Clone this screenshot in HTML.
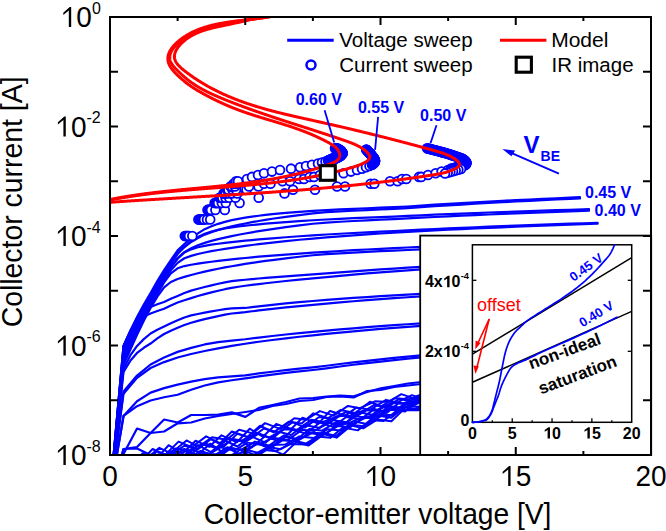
<!DOCTYPE html>
<html><head><meta charset="utf-8"><style>html,body{margin:0;padding:0;background:#fff;width:666px;height:531px;overflow:hidden}svg{display:block}</style></head>
<body><svg width="666" height="531" viewBox="0 0 666 531">
<rect width="666" height="531" fill="#fff"/>
<defs><clipPath id="pc"><rect x="110.0" y="17.0" width="541.0" height="438.0"/></clipPath></defs>
<g clip-path="url(#pc)">
<path d="M110,500 L123.5,449 L137.05,447 L150.6,433 L164.1,419.5 L177.7,422.5 L191.2,415 L204.8,415 L218.3,414.6 L231.8,412.4 L245.4,416.9 L258.9,407.9 L272.5,405 L286,402 L299.5,398.5 L313.1,398 L326.6,396.5 L340.2,395.5 L353.7,396.4 L367.2,392 L380.8,388.4 L394.3,386 L407.9,383.5 L421.4,382 L435,380" fill="none" stroke="#0000ff" stroke-width="2.2" stroke-linejoin="round" stroke-linecap="round" />
<path d="M110,500 L123.5,454 L137.05,428.5 L150.6,433 L164.1,431.5 L177.7,423.3 L191.2,422.5 L204.8,418.5 L218.3,416 L231.8,414 L245.4,412 L258.9,410 L272.5,406 L286,404 L299.5,401 L313.1,400 L326.6,397 L340.2,396.5 L353.7,397.5 L367.2,391 L380.8,390 L394.3,387 L407.9,385.5 L421.4,384 L435,382" fill="none" stroke="#0000ff" stroke-width="2.2" stroke-linejoin="round" stroke-linecap="round" />
<path d="M110,500 L123.5,449 L137,448.5 L150.6,455 L164,460" fill="none" stroke="#0000ff" stroke-width="2.2" stroke-linejoin="round" stroke-linecap="round" />
<path d="M119.87,488.83 L132.51,473.14 L148.41,476.92 L160.46,462.41 L173.84,469.82 L188.11,458.18 L203.11,466.13 L215.51,455.99 L227.82,464.4 L242.53,451.51 L254.33,457.96 L269.15,448.15 L283.16,454.63 L296.29,442.1 L308.36,445.62 L323.92,434.3 L336.48,437.64 L351.39,425.49 L363.22,428.35 L377.48,419.44 L391.39,421.24 L403.27,409.9 L418.05,410.36 L431.13,403.11 L443.75,405.58" fill="none" stroke="#0000ff" stroke-width="2.0" stroke-linejoin="round" stroke-linecap="round" />
<path d="M115.31,489.11 L129.32,474.76 L141.73,476.84 L155.47,464.03 L168.28,468.06 L181.69,458.45 L196.91,463.18 L209.55,454.63 L223.68,460.46 L234.98,453.13 L250.95,458.86 L263.35,449.83 L275.74,451.14 L290.34,444.03 L304.86,444.4 L317.45,436.45 L330.49,437.72 L342.9,427.51 L357.71,430.36 L370.8,419.9 L383.44,421.05 L396.98,410.62 L413.31,409.77 L425.22,403.33 L440.08,404.97" fill="none" stroke="#0000ff" stroke-width="2.0" stroke-linejoin="round" stroke-linecap="round" />
<path d="M119.29,486.58 L133.98,471.81 L147.58,472.54 L160.56,459.67 L172.24,468.47 L187.8,456.42 L200.77,461.29 L213.94,454.04 L226.61,460.1 L240.54,449.18 L254.02,454.62 L268.22,446.93 L280.84,449.25 L294.89,440.82 L308.63,444.16 L323.29,432.83 L335.87,436 L350.29,424.74 L363.95,426.34 L375.99,415.33 L391.08,417.86 L404.17,407.32 L417.43,409.2 L431.72,401.48 L443.52,403.09" fill="none" stroke="#0000ff" stroke-width="2.0" stroke-linejoin="round" stroke-linecap="round" />
<path d="M111.93,480.69 L123.05,483.3 L137.67,468.69 L151.74,469.83 L166.17,459.53 L178.69,464.39 L190.89,455.8 L205.09,458.64 L219.83,452.82 L231.25,457.09 L246.84,449.92 L259.53,453.2 L271.62,444.96 L285.07,444.59 L299.28,436.49 L313.76,438.07 L327.36,429.19 L341.14,430.48 L353.57,421.22 L367.77,424.35 L381.66,415.37 L393.78,414.77 L406.85,406.31 L423.14,406.92 L433.94,401.15 L448.26,401.65" fill="none" stroke="#0000ff" stroke-width="2.0" stroke-linejoin="round" stroke-linecap="round" />
<path d="M121.85,473.75 L133.18,478.03 L148.96,462.41 L161.56,466.55 L175.19,456.58 L188.87,461.05 L202.89,452.04 L214.92,459.17 L230.07,449.02 L241.48,455.49 L256.47,443.02 L269.73,448.3 L282.7,440.26 L296.46,441.71 L308.92,432.74 L322.54,435.15 L338.16,425.91 L350.31,427.24 L363.36,417.71 L377.23,418.47 L390.01,409.42 L405.03,411.59 L417.05,401.01 L430.73,404.94 L444.26,396.21" fill="none" stroke="#0000ff" stroke-width="2.0" stroke-linejoin="round" stroke-linecap="round" />
<path d="M121.66,473.1 L136.12,474.82 L149.09,460.32 L162.44,465.84 L175.13,456.62 L190.69,460.06 L203.91,452.37 L215.6,455.04 L231.21,447.88 L243.26,450.38 L258.23,443.7 L269.89,447.26 L285.43,436.97 L298.72,439.73 L312.9,432.7 L325.94,433.55 L339.06,424.07 L352.94,423.87 L366.35,417.46 L378.85,416.51 L391.34,408.54 L406.39,409.68 L419.93,400.84 L432.96,403.1 L448.09,398.25" fill="none" stroke="#0000ff" stroke-width="2.0" stroke-linejoin="round" stroke-linecap="round" />
<path d="M119.21,474.85 L134.77,474.38 L146.19,462.12 L162.3,462.83 L173.4,453.84 L187.73,458.84 L200.49,450.91 L214.09,455.71 L227.17,447.28 L240.59,450.03 L254.95,441.61 L268.91,445.56 L284.05,435.3 L297.34,439.35 L309.3,429.11 L322.01,430.64 L336.68,421.87 L349.22,422.9 L363.67,416.9 L377.75,415.15 L390.85,407.37 L404.34,407.67 L417.92,401.25 L432.21,401.77 L443.9,397.57" fill="none" stroke="#0000ff" stroke-width="2.0" stroke-linejoin="round" stroke-linecap="round" />
<path d="M112.85,477.77 L126.46,476.01 L138.6,462.5 L153.35,464.88 L165.07,454.05 L177.85,459.51 L192.57,449.31 L206.99,455.47 L220.51,447.35 L234.3,450.59 L247.49,442.62 L259.31,444.41 L272.83,437.7 L287.64,440.1 L302.19,429.66 L314.45,430.88 L329.32,422.72 L342.36,425.21 L355.88,416.19 L368.93,417.98 L381.83,410.68 L396.13,409.38 L408.58,403.29 L421.73,403.29 L436.94,397.2 L450.34,397.74" fill="none" stroke="#0000ff" stroke-width="2.0" stroke-linejoin="round" stroke-linecap="round" />
<path d="M116.99,481.75 L130.54,464.29 L143.57,467.79 L158.2,454.19 L170.29,460.38 L184.1,449.04 L197.76,454.82 L210.09,443.66 L223.62,452.92 L238.8,439.98 L251.74,447.45 L265,436.2 L279.58,441.46 L292.58,429.68 L305.85,433.53 L319.93,422.5 L332.63,426.87 L346.26,417.06 L360.76,419.39 L374.34,408.84 L386.67,412.92 L398.96,402.89 L414.96,404.8 L427.58,396.78 L441.46,400.55" fill="none" stroke="#0000ff" stroke-width="2.0" stroke-linejoin="round" stroke-linecap="round" />
<path d="M115.06,469.73 L129,472.9 L142.29,459.66 L155.87,462.64 L171.12,451.42 L182.93,457.99 L197.98,445.09 L210.91,452.06 L224.98,440.51 L237.39,446.5 L250.69,436.17 L265.44,442.67 L278.78,431.74 L291.12,435 L304.13,425.06 L319.17,427.82 L330.75,419.74 L346.56,422.3 L357.82,412.09 L371.89,414.82 L385.81,405.49 L398.98,407.52 L413.3,398.85 L425.86,401.59 L439.65,395.71" fill="none" stroke="#0000ff" stroke-width="2.0" stroke-linejoin="round" stroke-linecap="round" />
<path d="M111.73,480.09 L123.52,466.81 L137.43,466.13 L151.45,455.64 L165.48,460.1 L179.34,449.35 L191.59,453.44 L205.4,443.31 L218.04,448.33 L233.06,439.26 L245.08,441.97 L259.04,433.39 L271.79,438.92 L285.73,427.57 L298.81,430.22 L312.77,421.78 L328.19,423.41 L341.19,414.84 L354.11,417.07 L366.87,410.08 L382.59,411.34 L393.58,402.83 L408.76,404.15 L421.13,397.63 L436.67,399.91 L448.48,392.14" fill="none" stroke="#0000ff" stroke-width="2.0" stroke-linejoin="round" stroke-linecap="round" />
<path d="M122.69,468.3 L135.24,467.34 L148.48,455.84 L162.12,459.17 L175.36,448.47 L189.52,450.18 L202.13,444.21 L216.66,448.16 L228.15,438.51 L242,440.49 L256.31,433.18 L269.33,437.34 L284.06,429.34 L296.75,430.1 L311.43,419.82 L323.02,422.03 L338.18,416.28 L350.45,415.48 L363.97,410.31 L377.08,409.95 L390.57,403.11 L403.85,403.13 L419.81,397.07 L431.62,396.79 L446.14,393.61" fill="none" stroke="#0000ff" stroke-width="2.0" stroke-linejoin="round" stroke-linecap="round" />
<path d="M115.52,477.38 L130.07,461.1 L142.82,464.41 L157.31,451.06 L168.82,455.88 L184.4,445.76 L197.98,449.18 L210.72,439.16 L224.18,446.3 L237.28,433.88 L250.55,438.16 L263.93,428.54 L278.34,432.47 L292.68,422.08 L304.81,427.6 L319.03,416.98 L331.41,419.01 L345.99,412.08 L358.29,414.8 L374.21,404.88 L385.16,407.88 L399.77,398.68 L412.41,402.13 L428.15,393.31 L440.6,396.57" fill="none" stroke="#0000ff" stroke-width="2.0" stroke-linejoin="round" stroke-linecap="round" />
<path d="M114,463.97 L126.59,469.29 L142.73,453.22 L155.33,459.91 L168.63,445.22 L182.21,453.77 L195.62,440.7 L209.24,446.82 L221.52,435.35 L236.99,442.23 L249.7,428.7 L262.8,436.7 L276.24,423.92 L290.7,429.52 L302.49,417.75 L318.47,423.62 L329.97,410.92 L345.29,415.6 L356.4,407.62 L370.37,409.55 L386.08,399.87 L397.36,402.44 L411.94,395.16 L425.21,399.68 L438.48,389.96" fill="none" stroke="#0000ff" stroke-width="2.0" stroke-linejoin="round" stroke-linecap="round" />
<path d="M111,477.25 L123.63,460.55 L137.61,464.51 L152.63,448.99 L164.67,455.21 L178.55,441.61 L191.87,447.07 L206.14,436.35 L220.03,443.18 L231.9,431.42 L247.59,436.83 L260.06,425.75 L273.59,432.39 L288.65,421.74 L301.63,423.52 L313.36,413.36 L328.28,418.1 L340.43,409.98 L354.95,412.97 L369.96,401.78 L380.96,406.28 L394.4,398.25 L408.62,399.36 L421.24,394.35 L436.51,397.34 L449.9,388.39" fill="none" stroke="#0000ff" stroke-width="2.0" stroke-linejoin="round" stroke-linecap="round" />
<path d="M118.15,472.15 L130.11,457.95 L144.4,460.29 L159.36,447.87 L171.01,453.34 L186.57,440.43 L198.38,446.8 L212.01,437.22 L226.58,439.72 L239.18,429.71 L252.66,433.37 L265.07,423.14 L280.11,428.87 L294.35,418.19 L306.17,419.72 L319.9,411.1 L333.64,415.65 L347.95,405.92 L359.88,408.18 L375.36,401.23 L388.52,401.93 L401.35,394.15 L414.42,398.6 L429.02,391.31 L441.18,394.22" fill="none" stroke="#0000ff" stroke-width="2.0" stroke-linejoin="round" stroke-linecap="round" />
<path d="M110,495 L123.53,346 L130.29,331 L137.05,317 L143.81,304.5 L150.57,293 L157.34,281.01 L164.1,270.04 L170.86,260.11 L177.62,250.32 L184.39,244.11 L191.15,238.16 L197.91,233.44 L204.68,229.17 L211.44,226.33 L218.2,223.83 L224.96,221.86 L231.73,220.16 L238.49,218.81 L245.25,217.63 L252.01,216.62 L258.77,215.72 L265.54,214.91 L272.3,214.18 L285.83,212.92 L299.35,211.84 L312.88,210.88 L326.4,210.08 L339.93,209.42 L353.45,208.82 L366.98,208.25 L380.5,207.72 L394.03,207.22 L407.55,206.48 L421.07,205.58 L434.6,204.71 L448.12,203.88 L461.65,203.09 L475.18,202.32 L488.7,201.58 L502.23,200.87 L515.75,200.18 L529.28,199.52 L542.8,198.87 L556.33,198.25 L569.85,197.64 L580,197.2" fill="none" stroke="#0000ff" stroke-width="2.2" stroke-linejoin="round" stroke-linecap="round" />
<path d="M110,495 L123.53,348.7 L130.29,333.7 L137.05,319.52 L143.81,306.76 L150.57,295.1 L157.34,283.24 L164.1,272.2 L170.86,262.36 L177.62,253.17 L184.39,247.06 L191.15,241.99 L197.91,237.99 L204.68,234.61 L211.44,232.1 L218.2,229.92 L224.96,228.05 L231.73,226.35 L238.49,224.85 L245.25,223.46 L252.01,222.18 L258.77,220.98 L265.54,219.85 L272.3,218.78 L285.83,216.83 L299.35,215.04 L312.88,213.4 L326.4,212.21 L339.93,211.45 L353.45,210.74 L366.98,210.08 L380.5,209.45 L394.03,208.86 L407.55,208.06 L421.07,207.12 L434.6,206.22 L448.12,205.36 L461.65,204.53 L475.18,203.73 L488.7,202.96 L502.23,202.22 L515.75,201.51 L529.28,200.81 L542.8,200.14 L556.33,199.49 L569.85,198.86 L580,198.4" fill="none" stroke="#0000ff" stroke-width="2.2" stroke-linejoin="round" stroke-linecap="round" />
<path d="M110,495 L123.53,351.4 L130.29,336.4 L137.05,322.04 L143.81,309 L150.57,297.14 L157.34,285.33 L164.1,273.99 L170.86,263.72 L177.62,254.01 L184.39,246.84 L191.15,241.35 L197.91,237.05 L204.68,233.75 L211.44,231.51 L218.2,229.85 L224.96,228.53 L231.73,227.44 L238.49,226.52 L245.25,225.71 L252.01,224.99 L258.77,224.33 L265.54,223.71 L272.3,223.13 L285.83,222.08 L299.35,221.13 L312.88,220.25 L326.4,219.49 L339.93,218.82 L353.45,218.2 L366.98,217.61 L380.5,217.06 L394.03,216.53 L407.55,215.94 L421.07,215.31 L434.6,214.71 L448.12,214.13 L461.65,213.57 L475.18,213.04 L488.7,212.52 L502.23,212.03 L515.75,211.55 L529.28,211.08 L542.8,210.64 L556.33,210.2 L569.85,209.78 L583.38,209.37 L589,209.2" fill="none" stroke="#0000ff" stroke-width="2.2" stroke-linejoin="round" stroke-linecap="round" />
<path d="M110,495 L123.53,354.1 L130.29,339.1 L137.05,324.56 L143.81,311.26 L150.57,299.24 L157.34,287.59 L164.1,276.29 L170.86,266.41 L177.62,258.01 L184.39,252.14 L191.15,248.29 L197.91,245.28 L204.68,242.87 L211.44,240.87 L218.2,239.14 L224.96,237.57 L231.73,236.12 L238.49,234.77 L245.25,233.51 L252.01,232.32 L258.77,231.19 L265.54,230.11 L272.3,229.08 L285.83,227.16 L299.35,225.38 L312.88,223.73 L326.4,222.53 L339.93,221.75 L353.45,221.02 L366.98,220.34 L380.5,219.68 L394.03,219.06 L407.55,218.39 L421.07,217.67 L434.6,216.98 L448.12,216.32 L461.65,215.69 L475.18,215.08 L488.7,214.49 L502.23,213.93 L515.75,213.38 L529.28,212.85 L542.8,212.34 L556.33,211.84 L569.85,211.36 L583.38,210.89 L589,210.7" fill="none" stroke="#0000ff" stroke-width="2.2" stroke-linejoin="round" stroke-linecap="round" />
<path d="M110,495 L123.53,356.8 L130.29,341.8 L137.05,327.08 L143.81,313.5 L150.57,301.28 L157.34,289.66 L164.1,278.01 L170.86,267.6 L177.62,258.73 L184.39,252.51 L191.15,249.34 L197.91,247.24 L204.68,245.8 L211.44,244.68 L218.2,243.74 L224.96,242.89 L231.73,242.11 L238.49,241.38 L245.25,240.7 L252.01,240.05 L258.77,239.44 L265.54,238.85 L272.3,238.29 L285.83,237.23 L299.35,236.26 L312.88,235.35 L326.4,234.52 L339.93,233.75 L353.45,233.02 L366.98,232.34 L380.5,231.68 L394.03,231.06 L407.55,230.4 L421.07,229.72 L434.6,229.06 L448.12,228.44 L461.65,227.83 L475.18,227.25 L488.7,226.69 L502.23,226.15 L515.75,225.63 L529.28,225.12 L542.8,224.64 L556.33,224.16 L569.85,223.7 L583.38,223.26 L596.9,222.82 L597.6,222.8" fill="none" stroke="#0000ff" stroke-width="2.2" stroke-linejoin="round" stroke-linecap="round" />
<path d="M110,495 L123.53,359.5 L130.29,344.5 L137.05,329.6 L143.81,315.75 L150.57,303.37 L157.34,291.87 L164.1,280.22 L170.86,270.27 L177.62,262.87 L184.39,258.24 L191.15,255.85 L197.91,254 L204.68,252.49 L211.44,251.16 L218.2,249.96 L224.96,248.84 L231.73,247.8 L238.49,246.81 L245.25,245.88 L252.01,244.99 L258.77,244.15 L265.54,243.34 L272.3,242.57 L285.83,241.12 L299.35,239.78 L312.88,238.53 L326.4,237.38 L339.93,236.33 L353.45,235.34 L366.98,234.4 L380.5,233.51 L394.03,232.66 L407.55,231.87 L421.07,231.14 L434.6,230.43 L448.12,229.76 L461.65,229.11 L475.18,228.49 L488.7,227.88 L502.23,227.3 L515.75,226.74 L529.28,226.2 L542.8,225.67 L556.33,225.16 L569.85,224.67 L583.38,224.19 L596.9,223.72 L597.6,223.7" fill="none" stroke="#0000ff" stroke-width="2.2" stroke-linejoin="round" stroke-linecap="round" />
<path d="M110,495 L123.53,362.2 L130.29,347.2 L137.05,332.2 L143.81,318.12 L150.57,305.51 L157.34,293.98 L164.1,282.4 L170.86,273.28 L177.62,268.33 L184.39,266.07 L191.15,264.76 L197.91,263.66 L204.68,262.67 L211.44,261.76 L218.2,260.91 L224.96,260.11 L231.73,259.36 L238.49,258.65 L245.25,257.98 L252.01,257.34 L258.77,256.72 L265.54,256.14 L272.3,255.58 L285.83,254.53 L299.35,253.56 L312.88,252.65 L326.4,251.8 L339.93,250.98 L353.45,250.21 L366.98,249.48 L380.5,248.79 L394.03,248.13 L407.55,247.51 L421.07,246.9 L434.6,246.23 L448.12,245.59 L461.65,244.98 L475.18,244.39 L488.7,243.83 L502.23,243.28 L515.75,242.75 L529.28,242.24 L542.8,241.74 L556.33,241.26 L569.85,240.79 L583.38,240.34 L596.9,239.9 L610.42,239.47 L623.95,239.06 L637.48,238.65 L651,238.26 L660,238" fill="none" stroke="#0000ff" stroke-width="2.2" stroke-linejoin="round" stroke-linecap="round" />
<path d="M110,495 L123.53,364.9 L130.29,349.9 L137.05,334.9 L143.81,320.66 L150.57,307.89 L157.34,296.69 L164.1,287.36 L170.86,282 L177.62,279.05 L184.39,276.85 L191.15,274.96 L197.91,273.23 L204.68,271.63 L211.44,270.15 L218.2,268.76 L224.96,267.45 L231.73,266.23 L238.49,265.06 L245.25,263.96 L252.01,262.91 L258.77,261.91 L265.54,260.96 L272.3,260.04 L285.83,258.32 L299.35,256.73 L312.88,255.24 L326.4,254.11 L339.93,253.33 L353.45,252.59 L366.98,251.89 L380.5,251.22 L394.03,250.59 L407.55,249.99 L421.07,249.39 L434.6,248.69 L448.12,248.02 L461.65,247.37 L475.18,246.75 L488.7,246.15 L502.23,245.57 L515.75,245.01 L529.28,244.47 L542.8,243.95 L556.33,243.44 L569.85,242.95 L583.38,242.47 L596.9,242.01 L610.42,241.56 L623.95,241.12 L637.48,240.69 L651,240.27 L660,240" fill="none" stroke="#0000ff" stroke-width="2.2" stroke-linejoin="round" stroke-linecap="round" />
<path d="M110,495 L123.53,346 L130.29,331.06 L137.05,317.96 L143.81,310.61 L150.57,307.04 L157.34,304.33 L164.1,302 L170.86,298.83 L177.62,295.99 L184.39,293.06 L191.15,290.65 L197.91,288.74 L204.68,286.97 L211.44,285.32 L218.2,283.77 L224.96,282.33 L231.73,281.12 L238.49,280.43 L245.25,279.78 L252.01,279.14 L258.77,278.52 L265.54,277.94 L272.3,277.38 L285.83,276.33 L299.35,275.36 L312.88,274.45 L326.4,273.46 L339.93,272.36 L353.45,271.32 L366.98,270.34 L380.5,269.41 L394.03,268.53 L407.55,267.68 L421.07,266.88 L434.6,266.15 L448.12,265.44 L461.65,264.76 L475.18,264.1 L488.7,263.47 L502.23,262.86 L515.75,262.28 L529.28,261.71 L542.8,261.16 L556.33,260.62 L569.85,260.1 L583.38,259.6 L596.9,259.11 L610.42,258.64 L623.95,258.18 L637.48,257.73 L651,257.29 L660,257" fill="none" stroke="#0000ff" stroke-width="2.2" stroke-linejoin="round" stroke-linecap="round" />
<path d="M110,495 L123.53,346.03 L130.29,331.39 L137.05,321.15 L143.81,316.61 L150.57,313.51 L157.34,310.93 L164.1,308.7 L170.86,305.42 L177.62,302.49 L184.39,300.23 L191.15,298.09 L197.91,296.05 L204.68,294.15 L211.44,292.39 L218.2,290.74 L224.96,289.2 L231.73,287.82 L238.49,286.77 L245.25,285.77 L252.01,284.88 L258.77,284.04 L265.54,283.24 L272.3,282.47 L285.83,281.02 L299.35,279.67 L312.88,278.42 L326.4,277.15 L339.93,275.85 L353.45,274.62 L366.98,273.46 L380.5,272.36 L394.03,271.31 L407.55,270.31 L421.07,269.38 L434.6,268.6 L448.12,267.86 L461.65,267.15 L475.18,266.46 L488.7,265.8 L502.23,265.16 L515.75,264.54 L529.28,263.94 L542.8,263.36 L556.33,262.8 L569.85,262.26 L583.38,261.73 L596.9,261.22 L610.42,260.72 L623.95,260.23 L637.48,259.76 L651,259.3 L660,259" fill="none" stroke="#0000ff" stroke-width="2.2" stroke-linejoin="round" stroke-linecap="round" />
<path d="M110,495 L123.53,368.94 L130.29,355.48 L137.05,345.94 L143.81,339.11 L150.57,333.52 L157.34,329.76 L164.1,326.5 L170.86,323.15 L177.62,320.16 L184.39,317.45 L191.15,315.39 L197.91,313.96 L204.68,312.64 L211.44,311.4 L218.2,310.25 L224.96,309.17 L231.73,308.35 L238.49,308.17 L245.25,307.97 L252.01,307.13 L258.77,306.33 L265.54,305.56 L272.3,304.83 L285.83,303.46 L299.35,302.18 L312.88,300.99 L326.4,299.9 L339.93,298.9 L353.45,297.95 L366.98,297.05 L380.5,296.2 L394.03,295.4 L407.55,294.63 L421.07,293.88 L434.6,293.15 L448.12,292.44 L461.65,291.76 L475.18,291.1 L488.7,290.47 L502.23,289.86 L515.75,289.28 L529.28,288.71 L542.8,288.16 L556.33,287.62 L569.85,287.1 L583.38,286.6 L596.9,286.11 L610.42,285.64 L623.95,285.18 L637.48,284.73 L651,284.29 L660,284" fill="none" stroke="#0000ff" stroke-width="2.2" stroke-linejoin="round" stroke-linecap="round" />
<path d="M110,495 L123.53,371.95 L130.29,360.83 L137.05,352.96 L143.81,347.76 L150.57,343.51 L157.34,338.42 L164.1,334 L170.86,330.65 L177.62,327.66 L184.39,324.95 L191.15,322.69 L197.91,320.85 L204.68,319.15 L211.44,317.56 L218.2,316.08 L224.96,314.69 L231.73,313.52 L238.49,312.83 L245.25,312.17 L252.01,311.28 L258.77,310.44 L265.54,309.64 L272.3,308.87 L285.83,307.42 L299.35,306.07 L312.88,304.82 L326.4,303.6 L339.93,302.39 L353.45,301.25 L366.98,300.18 L380.5,299.15 L394.03,298.18 L407.55,297.25 L421.07,296.38 L434.6,295.6 L448.12,294.86 L461.65,294.15 L475.18,293.46 L488.7,292.8 L502.23,292.16 L515.75,291.54 L529.28,290.94 L542.8,290.36 L556.33,289.8 L569.85,289.26 L583.38,288.73 L596.9,288.22 L610.42,287.72 L623.95,287.23 L637.48,286.76 L651,286.3 L660,286" fill="none" stroke="#0000ff" stroke-width="2.2" stroke-linejoin="round" stroke-linecap="round" />
<path d="M110,495 L123.53,391.36 L137.05,375.55 L150.57,364.52 L164.1,357.41 L177.62,351.89 L191.15,347.86 L204.68,344.45 L218.2,342.06 L231.73,340.59 L245.25,339.27 L258.77,337.54 L272.3,335.97 L285.83,334.52 L299.35,333.17 L312.88,331.92 L326.4,330.69 L339.93,329.47 L353.45,328.32 L366.98,327.22 L380.5,326.19 L394.03,325.2 L407.55,324.26 L421.07,323.37 L434.6,322.52 L448.12,321.7 L461.65,320.92 L475.18,320.17 L488.7,319.44 L502.23,318.74 L515.75,318.07 L529.28,317.41 L542.8,316.78 L556.33,316.17 L569.85,315.57 L583.38,314.99 L596.9,314.43 L610.42,313.88 L623.95,313.35 L637.48,312.83 L651,312.33 L660,312" fill="none" stroke="#0000ff" stroke-width="2.2" stroke-linejoin="round" stroke-linecap="round" />
<path d="M110,495 L123.53,393.66 L137.05,377.86 L150.57,368.01 L164.1,362.09 L177.62,357.49 L191.15,353.99 L204.68,351.03 L218.2,348.38 L231.73,345.94 L245.25,343.76 L258.77,341.78 L272.3,339.97 L285.83,338.3 L299.35,336.76 L312.88,335.32 L326.4,333.93 L339.93,332.58 L353.45,331.31 L366.98,330.11 L380.5,328.96 L394.03,327.88 L407.55,326.84 L421.07,325.87 L434.6,325.06 L448.12,324.28 L461.65,323.53 L475.18,322.81 L488.7,322.12 L502.23,321.45 L515.75,320.8 L529.28,320.18 L542.8,319.57 L556.33,318.98 L569.85,318.42 L583.38,317.86 L596.9,317.32 L610.42,316.8 L623.95,316.29 L637.48,315.8 L651,315.31 L660,315" fill="none" stroke="#0000ff" stroke-width="2.2" stroke-linejoin="round" stroke-linecap="round" />
<path d="M110,495 L123.53,415.96 L137.05,401.23 L150.57,392.61 L164.1,388.15 L177.62,384.69 L191.15,381.68 L204.68,379.13 L218.2,377.37 L231.73,376.32 L245.25,375.36 L258.77,373.46 L272.3,371.73 L285.83,370.14 L299.35,368.66 L312.88,367.29 L326.4,365.74 L339.93,363.99 L353.45,362.35 L366.98,360.8 L380.5,359.32 L394.03,357.92 L407.55,356.59 L421.07,355.35 L434.6,354.43 L448.12,353.55 L461.65,352.7 L475.18,351.88 L488.7,351.09 L502.23,350.33 L515.75,349.59 L529.28,348.88 L542.8,348.2 L556.33,347.53 L569.85,346.88 L583.38,346.25 L596.9,345.64 L610.42,345.05 L623.95,344.47 L637.48,343.91 L651,343.36 L660,343" fill="none" stroke="#0000ff" stroke-width="2.2" stroke-linejoin="round" stroke-linecap="round" />
<path d="M110,495 L123.53,415.97 L137.05,406.22 L150.57,400.51 L164.1,397.29 L177.62,394.79 L191.15,389.78 L204.68,385.55 L218.2,382.43 L231.73,380.28 L245.25,378.36 L258.77,376.4 L272.3,374.61 L285.83,372.96 L299.35,371.43 L312.88,370.01 L326.4,368.38 L339.93,366.53 L353.45,364.78 L366.98,363.13 L380.5,361.57 L394.03,360.07 L407.55,358.65 L421.07,357.35 L434.6,356.43 L448.12,355.55 L461.65,354.7 L475.18,353.88 L488.7,353.09 L502.23,352.33 L515.75,351.59 L529.28,350.88 L542.8,350.2 L556.33,349.53 L569.85,348.88 L583.38,348.25 L596.9,347.64 L610.42,347.05 L623.95,346.47 L637.48,345.91 L651,345.36 L660,345" fill="none" stroke="#0000ff" stroke-width="2.2" stroke-linejoin="round" stroke-linecap="round" />
<circle cx="184.8" cy="236" r="4.4" fill="#fff" stroke="#0000ff" stroke-width="1.8"/>
<circle cx="185.5" cy="236" r="4.4" fill="#fff" stroke="#0000ff" stroke-width="1.8"/>
<circle cx="186.2" cy="236" r="4.4" fill="#fff" stroke="#0000ff" stroke-width="1.8"/>
<circle cx="186.9" cy="236" r="4.4" fill="#fff" stroke="#0000ff" stroke-width="1.8"/>
<circle cx="187.6" cy="236" r="4.4" fill="#fff" stroke="#0000ff" stroke-width="1.8"/>
<circle cx="188.3" cy="236" r="4.4" fill="#fff" stroke="#0000ff" stroke-width="1.8"/>
<circle cx="189" cy="236" r="4.4" fill="#fff" stroke="#0000ff" stroke-width="1.8"/>
<circle cx="192.3" cy="236" r="4.4" fill="#fff" stroke="#0000ff" stroke-width="1.8"/>
<circle cx="198.4" cy="219.52" r="4.4" fill="#fff" stroke="#0000ff" stroke-width="1.8"/>
<circle cx="199.1" cy="219.52" r="4.4" fill="#fff" stroke="#0000ff" stroke-width="1.8"/>
<circle cx="199.8" cy="219.52" r="4.4" fill="#fff" stroke="#0000ff" stroke-width="1.8"/>
<circle cx="200.5" cy="219.52" r="4.4" fill="#fff" stroke="#0000ff" stroke-width="1.8"/>
<circle cx="201.2" cy="219.52" r="4.4" fill="#fff" stroke="#0000ff" stroke-width="1.8"/>
<circle cx="201.9" cy="219.52" r="4.4" fill="#fff" stroke="#0000ff" stroke-width="1.8"/>
<circle cx="202.6" cy="219.52" r="4.4" fill="#fff" stroke="#0000ff" stroke-width="1.8"/>
<circle cx="203.3" cy="219.52" r="4.4" fill="#fff" stroke="#0000ff" stroke-width="1.8"/>
<circle cx="204" cy="219.52" r="4.4" fill="#fff" stroke="#0000ff" stroke-width="1.8"/>
<circle cx="207" cy="219.52" r="4.4" fill="#fff" stroke="#0000ff" stroke-width="1.8"/>
<circle cx="210.2" cy="219.52" r="4.4" fill="#fff" stroke="#0000ff" stroke-width="1.8"/>
<circle cx="207.5" cy="209.88" r="4.4" fill="#fff" stroke="#0000ff" stroke-width="1.8"/>
<circle cx="208.2" cy="209.88" r="4.4" fill="#fff" stroke="#0000ff" stroke-width="1.8"/>
<circle cx="208.9" cy="209.88" r="4.4" fill="#fff" stroke="#0000ff" stroke-width="1.8"/>
<circle cx="209.6" cy="209.88" r="4.4" fill="#fff" stroke="#0000ff" stroke-width="1.8"/>
<circle cx="210.3" cy="209.88" r="4.4" fill="#fff" stroke="#0000ff" stroke-width="1.8"/>
<circle cx="211" cy="209.88" r="4.4" fill="#fff" stroke="#0000ff" stroke-width="1.8"/>
<circle cx="215.4" cy="209.88" r="4.4" fill="#fff" stroke="#0000ff" stroke-width="1.8"/>
<circle cx="224.8" cy="209.88" r="4.4" fill="#fff" stroke="#0000ff" stroke-width="1.8"/>
<circle cx="214.6" cy="203.04" r="4.4" fill="#fff" stroke="#0000ff" stroke-width="1.8"/>
<circle cx="215.3" cy="203.04" r="4.4" fill="#fff" stroke="#0000ff" stroke-width="1.8"/>
<circle cx="216" cy="203.04" r="4.4" fill="#fff" stroke="#0000ff" stroke-width="1.8"/>
<circle cx="216.7" cy="203.04" r="4.4" fill="#fff" stroke="#0000ff" stroke-width="1.8"/>
<circle cx="217.4" cy="203.04" r="4.4" fill="#fff" stroke="#0000ff" stroke-width="1.8"/>
<circle cx="218.1" cy="203.04" r="4.4" fill="#fff" stroke="#0000ff" stroke-width="1.8"/>
<circle cx="221.8" cy="203.04" r="4.4" fill="#fff" stroke="#0000ff" stroke-width="1.8"/>
<circle cx="225.8" cy="203.04" r="4.4" fill="#fff" stroke="#0000ff" stroke-width="1.8"/>
<circle cx="239.6" cy="203.04" r="4.4" fill="#fff" stroke="#0000ff" stroke-width="1.8"/>
<circle cx="219.5" cy="197.73" r="4.4" fill="#fff" stroke="#0000ff" stroke-width="1.8"/>
<circle cx="220.2" cy="197.73" r="4.4" fill="#fff" stroke="#0000ff" stroke-width="1.8"/>
<circle cx="220.9" cy="197.73" r="4.4" fill="#fff" stroke="#0000ff" stroke-width="1.8"/>
<circle cx="221.6" cy="197.73" r="4.4" fill="#fff" stroke="#0000ff" stroke-width="1.8"/>
<circle cx="222.3" cy="197.73" r="4.4" fill="#fff" stroke="#0000ff" stroke-width="1.8"/>
<circle cx="225.5" cy="197.73" r="4.4" fill="#fff" stroke="#0000ff" stroke-width="1.8"/>
<circle cx="229.2" cy="197.73" r="4.4" fill="#fff" stroke="#0000ff" stroke-width="1.8"/>
<circle cx="235.5" cy="197.73" r="4.4" fill="#fff" stroke="#0000ff" stroke-width="1.8"/>
<circle cx="258.7" cy="197.73" r="4.4" fill="#fff" stroke="#0000ff" stroke-width="1.8"/>
<circle cx="223.5" cy="193.4" r="4.4" fill="#fff" stroke="#0000ff" stroke-width="1.8"/>
<circle cx="224.2" cy="193.4" r="4.4" fill="#fff" stroke="#0000ff" stroke-width="1.8"/>
<circle cx="224.9" cy="193.4" r="4.4" fill="#fff" stroke="#0000ff" stroke-width="1.8"/>
<circle cx="225.6" cy="193.4" r="4.4" fill="#fff" stroke="#0000ff" stroke-width="1.8"/>
<circle cx="229" cy="193.4" r="4.4" fill="#fff" stroke="#0000ff" stroke-width="1.8"/>
<circle cx="232" cy="193.4" r="4.4" fill="#fff" stroke="#0000ff" stroke-width="1.8"/>
<circle cx="237.3" cy="193.4" r="4.4" fill="#fff" stroke="#0000ff" stroke-width="1.8"/>
<circle cx="284.5" cy="193.4" r="4.4" fill="#fff" stroke="#0000ff" stroke-width="1.8"/>
<circle cx="227" cy="189.73" r="4.4" fill="#fff" stroke="#0000ff" stroke-width="1.8"/>
<circle cx="227.7" cy="189.73" r="4.4" fill="#fff" stroke="#0000ff" stroke-width="1.8"/>
<circle cx="228.4" cy="189.73" r="4.4" fill="#fff" stroke="#0000ff" stroke-width="1.8"/>
<circle cx="232.5" cy="189.73" r="4.4" fill="#fff" stroke="#0000ff" stroke-width="1.8"/>
<circle cx="236" cy="189.73" r="4.4" fill="#fff" stroke="#0000ff" stroke-width="1.8"/>
<circle cx="246.5" cy="189.73" r="4.4" fill="#fff" stroke="#0000ff" stroke-width="1.8"/>
<circle cx="293" cy="189.73" r="4.4" fill="#fff" stroke="#0000ff" stroke-width="1.8"/>
<circle cx="315" cy="189.73" r="4.4" fill="#fff" stroke="#0000ff" stroke-width="1.8"/>
<circle cx="230.5" cy="186.56" r="4.4" fill="#fff" stroke="#0000ff" stroke-width="1.8"/>
<circle cx="231.2" cy="186.56" r="4.4" fill="#fff" stroke="#0000ff" stroke-width="1.8"/>
<circle cx="231.9" cy="186.56" r="4.4" fill="#fff" stroke="#0000ff" stroke-width="1.8"/>
<circle cx="235" cy="186.56" r="4.4" fill="#fff" stroke="#0000ff" stroke-width="1.8"/>
<circle cx="249" cy="186.56" r="4.4" fill="#fff" stroke="#0000ff" stroke-width="1.8"/>
<circle cx="258.5" cy="186.56" r="4.4" fill="#fff" stroke="#0000ff" stroke-width="1.8"/>
<circle cx="337" cy="186.56" r="4.4" fill="#fff" stroke="#0000ff" stroke-width="1.8"/>
<circle cx="345" cy="186.56" r="4.4" fill="#fff" stroke="#0000ff" stroke-width="1.8"/>
<circle cx="233.5" cy="183.76" r="4.4" fill="#fff" stroke="#0000ff" stroke-width="1.8"/>
<circle cx="235" cy="183.76" r="4.4" fill="#fff" stroke="#0000ff" stroke-width="1.8"/>
<circle cx="238" cy="183.76" r="4.4" fill="#fff" stroke="#0000ff" stroke-width="1.8"/>
<circle cx="264" cy="183.76" r="4.4" fill="#fff" stroke="#0000ff" stroke-width="1.8"/>
<circle cx="270.5" cy="183.76" r="4.4" fill="#fff" stroke="#0000ff" stroke-width="1.8"/>
<circle cx="370.6" cy="183.76" r="4.4" fill="#fff" stroke="#0000ff" stroke-width="1.8"/>
<circle cx="374.3" cy="183.76" r="4.4" fill="#fff" stroke="#0000ff" stroke-width="1.8"/>
<circle cx="236" cy="181.25" r="4.4" fill="#fff" stroke="#0000ff" stroke-width="1.8"/>
<circle cx="238" cy="181.25" r="4.4" fill="#fff" stroke="#0000ff" stroke-width="1.8"/>
<circle cx="282.5" cy="181.25" r="4.4" fill="#fff" stroke="#0000ff" stroke-width="1.8"/>
<circle cx="290" cy="181.25" r="4.4" fill="#fff" stroke="#0000ff" stroke-width="1.8"/>
<circle cx="390" cy="181.25" r="4.4" fill="#fff" stroke="#0000ff" stroke-width="1.8"/>
<circle cx="397.6" cy="181.25" r="4.4" fill="#fff" stroke="#0000ff" stroke-width="1.8"/>
<circle cx="247" cy="178.98" r="4.4" fill="#fff" stroke="#0000ff" stroke-width="1.8"/>
<circle cx="252" cy="176.91" r="4.4" fill="#fff" stroke="#0000ff" stroke-width="1.8"/>
<circle cx="258" cy="175.01" r="4.4" fill="#fff" stroke="#0000ff" stroke-width="1.8"/>
<circle cx="264" cy="173.25" r="4.4" fill="#fff" stroke="#0000ff" stroke-width="1.8"/>
<circle cx="272" cy="171.61" r="4.4" fill="#fff" stroke="#0000ff" stroke-width="1.8"/>
<circle cx="280" cy="170.07" r="4.4" fill="#fff" stroke="#0000ff" stroke-width="1.8"/>
<circle cx="291" cy="168.63" r="4.4" fill="#fff" stroke="#0000ff" stroke-width="1.8"/>
<circle cx="300" cy="167.27" r="4.4" fill="#fff" stroke="#0000ff" stroke-width="1.8"/>
<circle cx="306" cy="165.99" r="4.4" fill="#fff" stroke="#0000ff" stroke-width="1.8"/>
<circle cx="312" cy="164.77" r="4.4" fill="#fff" stroke="#0000ff" stroke-width="1.8"/>
<circle cx="318" cy="163.61" r="4.4" fill="#fff" stroke="#0000ff" stroke-width="1.8"/>
<circle cx="322" cy="162.5" r="4.4" fill="#fff" stroke="#0000ff" stroke-width="1.8"/>
<circle cx="325.5" cy="161.45" r="4.4" fill="#fff" stroke="#0000ff" stroke-width="1.8"/>
<circle cx="328" cy="160.43" r="4.4" fill="none" stroke="#0000ff" stroke-width="1.8"/>
<circle cx="331" cy="160.43" r="4.4" fill="none" stroke="#0000ff" stroke-width="1.8"/>
<circle cx="328.82" cy="160.11" r="4.4" fill="none" stroke="#0000ff" stroke-width="1.8"/>
<circle cx="329.68" cy="159.78" r="4.4" fill="none" stroke="#0000ff" stroke-width="1.8"/>
<circle cx="331.82" cy="160.11" r="4.4" fill="none" stroke="#0000ff" stroke-width="1.8"/>
<circle cx="332.68" cy="159.78" r="4.4" fill="none" stroke="#0000ff" stroke-width="1.8"/>
<circle cx="330.5" cy="159.46" r="4.4" fill="none" stroke="#0000ff" stroke-width="1.8"/>
<circle cx="333.5" cy="159.46" r="4.4" fill="none" stroke="#0000ff" stroke-width="1.8"/>
<circle cx="331.16" cy="159.16" r="4.4" fill="none" stroke="#0000ff" stroke-width="1.8"/>
<circle cx="331.84" cy="158.84" r="4.4" fill="none" stroke="#0000ff" stroke-width="1.8"/>
<circle cx="334.16" cy="159.16" r="4.4" fill="none" stroke="#0000ff" stroke-width="1.8"/>
<circle cx="334.84" cy="158.84" r="4.4" fill="none" stroke="#0000ff" stroke-width="1.8"/>
<circle cx="332.5" cy="158.53" r="4.4" fill="none" stroke="#0000ff" stroke-width="1.8"/>
<circle cx="335.5" cy="158.53" r="4.4" fill="none" stroke="#0000ff" stroke-width="1.8"/>
<circle cx="333.16" cy="158.23" r="4.4" fill="none" stroke="#0000ff" stroke-width="1.8"/>
<circle cx="333.84" cy="157.93" r="4.4" fill="none" stroke="#0000ff" stroke-width="1.8"/>
<circle cx="336.16" cy="158.23" r="4.4" fill="none" stroke="#0000ff" stroke-width="1.8"/>
<circle cx="336.84" cy="157.93" r="4.4" fill="none" stroke="#0000ff" stroke-width="1.8"/>
<circle cx="334.5" cy="157.63" r="4.4" fill="none" stroke="#0000ff" stroke-width="1.8"/>
<circle cx="337.5" cy="157.63" r="4.4" fill="none" stroke="#0000ff" stroke-width="1.8"/>
<circle cx="335" cy="157.35" r="4.4" fill="none" stroke="#0000ff" stroke-width="1.8"/>
<circle cx="335.5" cy="157.05" r="4.4" fill="none" stroke="#0000ff" stroke-width="1.8"/>
<circle cx="338" cy="157.35" r="4.4" fill="none" stroke="#0000ff" stroke-width="1.8"/>
<circle cx="338.5" cy="157.05" r="4.4" fill="none" stroke="#0000ff" stroke-width="1.8"/>
<circle cx="336" cy="156.77" r="4.4" fill="none" stroke="#0000ff" stroke-width="1.8"/>
<circle cx="339" cy="156.77" r="4.4" fill="none" stroke="#0000ff" stroke-width="1.8"/>
<circle cx="336.5" cy="156.49" r="4.4" fill="none" stroke="#0000ff" stroke-width="1.8"/>
<circle cx="337" cy="156.21" r="4.4" fill="none" stroke="#0000ff" stroke-width="1.8"/>
<circle cx="339.5" cy="156.49" r="4.4" fill="none" stroke="#0000ff" stroke-width="1.8"/>
<circle cx="340" cy="156.21" r="4.4" fill="none" stroke="#0000ff" stroke-width="1.8"/>
<circle cx="337.5" cy="155.93" r="4.4" fill="none" stroke="#0000ff" stroke-width="1.8"/>
<circle cx="340.5" cy="155.93" r="4.4" fill="none" stroke="#0000ff" stroke-width="1.8"/>
<circle cx="338" cy="155.67" r="4.4" fill="none" stroke="#0000ff" stroke-width="1.8"/>
<circle cx="338.5" cy="155.39" r="4.4" fill="none" stroke="#0000ff" stroke-width="1.8"/>
<circle cx="340.67" cy="155.67" r="4.4" fill="none" stroke="#0000ff" stroke-width="1.8"/>
<circle cx="340.83" cy="155.39" r="4.4" fill="none" stroke="#0000ff" stroke-width="1.8"/>
<circle cx="339" cy="155.13" r="4.4" fill="none" stroke="#0000ff" stroke-width="1.8"/>
<circle cx="341" cy="155.13" r="4.4" fill="none" stroke="#0000ff" stroke-width="1.8"/>
<circle cx="339.33" cy="154.87" r="4.4" fill="none" stroke="#0000ff" stroke-width="1.8"/>
<circle cx="339.67" cy="154.61" r="4.4" fill="none" stroke="#0000ff" stroke-width="1.8"/>
<circle cx="341.33" cy="154.87" r="4.4" fill="none" stroke="#0000ff" stroke-width="1.8"/>
<circle cx="341.67" cy="154.61" r="4.4" fill="none" stroke="#0000ff" stroke-width="1.8"/>
<circle cx="340" cy="154.35" r="4.4" fill="none" stroke="#0000ff" stroke-width="1.8"/>
<circle cx="342" cy="154.35" r="4.4" fill="none" stroke="#0000ff" stroke-width="1.8"/>
<circle cx="340.17" cy="154.1" r="4.4" fill="none" stroke="#0000ff" stroke-width="1.8"/>
<circle cx="340.33" cy="153.84" r="4.4" fill="none" stroke="#0000ff" stroke-width="1.8"/>
<circle cx="342.17" cy="154.1" r="4.4" fill="none" stroke="#0000ff" stroke-width="1.8"/>
<circle cx="342.33" cy="153.84" r="4.4" fill="none" stroke="#0000ff" stroke-width="1.8"/>
<circle cx="340.5" cy="153.59" r="4.4" fill="none" stroke="#0000ff" stroke-width="1.8"/>
<circle cx="342.5" cy="153.59" r="4.4" fill="none" stroke="#0000ff" stroke-width="1.8"/>
<circle cx="340.5" cy="153.35" r="4.4" fill="none" stroke="#0000ff" stroke-width="1.8"/>
<circle cx="340.5" cy="153.1" r="4.4" fill="none" stroke="#0000ff" stroke-width="1.8"/>
<circle cx="342.5" cy="153.35" r="4.4" fill="none" stroke="#0000ff" stroke-width="1.8"/>
<circle cx="342.5" cy="153.1" r="4.4" fill="none" stroke="#0000ff" stroke-width="1.8"/>
<circle cx="340.5" cy="152.86" r="4.4" fill="none" stroke="#0000ff" stroke-width="1.8"/>
<circle cx="342.5" cy="152.86" r="4.4" fill="none" stroke="#0000ff" stroke-width="1.8"/>
<circle cx="340.33" cy="152.63" r="4.4" fill="none" stroke="#0000ff" stroke-width="1.8"/>
<circle cx="340.17" cy="152.39" r="4.4" fill="none" stroke="#0000ff" stroke-width="1.8"/>
<circle cx="342.33" cy="152.63" r="4.4" fill="none" stroke="#0000ff" stroke-width="1.8"/>
<circle cx="342.17" cy="152.39" r="4.4" fill="none" stroke="#0000ff" stroke-width="1.8"/>
<circle cx="340" cy="152.15" r="4.4" fill="none" stroke="#0000ff" stroke-width="1.8"/>
<circle cx="342" cy="152.15" r="4.4" fill="none" stroke="#0000ff" stroke-width="1.8"/>
<circle cx="339.83" cy="151.92" r="4.4" fill="none" stroke="#0000ff" stroke-width="1.8"/>
<circle cx="339.67" cy="151.69" r="4.4" fill="none" stroke="#0000ff" stroke-width="1.8"/>
<circle cx="341.83" cy="151.92" r="4.4" fill="none" stroke="#0000ff" stroke-width="1.8"/>
<circle cx="341.67" cy="151.69" r="4.4" fill="none" stroke="#0000ff" stroke-width="1.8"/>
<circle cx="339.5" cy="151.46" r="4.4" fill="none" stroke="#0000ff" stroke-width="1.8"/>
<circle cx="341.5" cy="151.46" r="4.4" fill="none" stroke="#0000ff" stroke-width="1.8"/>
<circle cx="339.33" cy="151.24" r="4.4" fill="none" stroke="#0000ff" stroke-width="1.8"/>
<circle cx="339.17" cy="151.01" r="4.4" fill="none" stroke="#0000ff" stroke-width="1.8"/>
<circle cx="341.33" cy="151.24" r="4.4" fill="none" stroke="#0000ff" stroke-width="1.8"/>
<circle cx="341.17" cy="151.01" r="4.4" fill="none" stroke="#0000ff" stroke-width="1.8"/>
<circle cx="339" cy="150.79" r="4.4" fill="none" stroke="#0000ff" stroke-width="1.8"/>
<circle cx="341" cy="150.79" r="4.4" fill="none" stroke="#0000ff" stroke-width="1.8"/>
<circle cx="338.67" cy="150.58" r="4.4" fill="none" stroke="#0000ff" stroke-width="1.8"/>
<circle cx="338.33" cy="150.36" r="4.4" fill="none" stroke="#0000ff" stroke-width="1.8"/>
<circle cx="340.67" cy="150.58" r="4.4" fill="none" stroke="#0000ff" stroke-width="1.8"/>
<circle cx="340.33" cy="150.36" r="4.4" fill="none" stroke="#0000ff" stroke-width="1.8"/>
<circle cx="338" cy="150.14" r="4.4" fill="none" stroke="#0000ff" stroke-width="1.8"/>
<circle cx="340" cy="150.14" r="4.4" fill="none" stroke="#0000ff" stroke-width="1.8"/>
<circle cx="337.67" cy="149.93" r="4.4" fill="none" stroke="#0000ff" stroke-width="1.8"/>
<circle cx="337.33" cy="149.72" r="4.4" fill="none" stroke="#0000ff" stroke-width="1.8"/>
<circle cx="339.67" cy="149.93" r="4.4" fill="none" stroke="#0000ff" stroke-width="1.8"/>
<circle cx="339.33" cy="149.72" r="4.4" fill="none" stroke="#0000ff" stroke-width="1.8"/>
<circle cx="337" cy="149.51" r="4.4" fill="none" stroke="#0000ff" stroke-width="1.8"/>
<circle cx="339" cy="149.51" r="4.4" fill="none" stroke="#0000ff" stroke-width="1.8"/>
<circle cx="336.67" cy="149.3" r="4.4" fill="none" stroke="#0000ff" stroke-width="1.8"/>
<circle cx="336.33" cy="149.09" r="4.4" fill="none" stroke="#0000ff" stroke-width="1.8"/>
<circle cx="338.67" cy="149.3" r="4.4" fill="none" stroke="#0000ff" stroke-width="1.8"/>
<circle cx="338.33" cy="149.09" r="4.4" fill="none" stroke="#0000ff" stroke-width="1.8"/>
<circle cx="336" cy="148.89" r="4.4" fill="none" stroke="#0000ff" stroke-width="1.8"/>
<circle cx="338" cy="148.89" r="4.4" fill="none" stroke="#0000ff" stroke-width="1.8"/>
<circle cx="335.67" cy="148.69" r="4.4" fill="none" stroke="#0000ff" stroke-width="1.8"/>
<circle cx="335.33" cy="148.49" r="4.4" fill="none" stroke="#0000ff" stroke-width="1.8"/>
<circle cx="337.67" cy="148.69" r="4.4" fill="none" stroke="#0000ff" stroke-width="1.8"/>
<circle cx="337.33" cy="148.49" r="4.4" fill="none" stroke="#0000ff" stroke-width="1.8"/>
<circle cx="335" cy="148.29" r="4.4" fill="none" stroke="#0000ff" stroke-width="1.8"/>
<circle cx="337" cy="148.29" r="4.4" fill="none" stroke="#0000ff" stroke-width="1.8"/>
<circle cx="299" cy="178.98" r="4.4" fill="#fff" stroke="#0000ff" stroke-width="1.8"/>
<circle cx="304" cy="178.98" r="4.4" fill="#fff" stroke="#0000ff" stroke-width="1.8"/>
<circle cx="309.6" cy="176.91" r="4.4" fill="#fff" stroke="#0000ff" stroke-width="1.8"/>
<circle cx="314" cy="176.91" r="4.4" fill="#fff" stroke="#0000ff" stroke-width="1.8"/>
<circle cx="320" cy="175.01" r="4.4" fill="#fff" stroke="#0000ff" stroke-width="1.8"/>
<circle cx="327" cy="175.01" r="4.4" fill="#fff" stroke="#0000ff" stroke-width="1.8"/>
<circle cx="343.5" cy="173.25" r="4.4" fill="#fff" stroke="#0000ff" stroke-width="1.8"/>
<circle cx="351" cy="171.61" r="4.4" fill="#fff" stroke="#0000ff" stroke-width="1.8"/>
<circle cx="357" cy="170.07" r="4.4" fill="#fff" stroke="#0000ff" stroke-width="1.8"/>
<circle cx="362" cy="168.63" r="4.4" fill="#fff" stroke="#0000ff" stroke-width="1.8"/>
<circle cx="366" cy="167.27" r="4.4" fill="#fff" stroke="#0000ff" stroke-width="1.8"/>
<circle cx="369.5" cy="165.99" r="4.4" fill="#fff" stroke="#0000ff" stroke-width="1.8"/>
<circle cx="372" cy="164.77" r="4.4" fill="none" stroke="#0000ff" stroke-width="1.8"/>
<circle cx="372.5" cy="164.39" r="4.4" fill="none" stroke="#0000ff" stroke-width="1.8"/>
<circle cx="373" cy="163.99" r="4.4" fill="none" stroke="#0000ff" stroke-width="1.8"/>
<circle cx="373.5" cy="163.61" r="4.4" fill="none" stroke="#0000ff" stroke-width="1.8"/>
<circle cx="373.83" cy="163.24" r="4.4" fill="none" stroke="#0000ff" stroke-width="1.8"/>
<circle cx="374.17" cy="162.87" r="4.4" fill="none" stroke="#0000ff" stroke-width="1.8"/>
<circle cx="374.5" cy="162.5" r="4.4" fill="none" stroke="#0000ff" stroke-width="1.8"/>
<circle cx="374.67" cy="162.15" r="4.4" fill="none" stroke="#0000ff" stroke-width="1.8"/>
<circle cx="374.83" cy="161.79" r="4.4" fill="none" stroke="#0000ff" stroke-width="1.8"/>
<circle cx="375" cy="161.45" r="4.4" fill="none" stroke="#0000ff" stroke-width="1.8"/>
<circle cx="375" cy="161.11" r="4.4" fill="none" stroke="#0000ff" stroke-width="1.8"/>
<circle cx="375" cy="160.77" r="4.4" fill="none" stroke="#0000ff" stroke-width="1.8"/>
<circle cx="375" cy="160.43" r="4.4" fill="none" stroke="#0000ff" stroke-width="1.8"/>
<circle cx="374.87" cy="160.11" r="4.4" fill="none" stroke="#0000ff" stroke-width="1.8"/>
<circle cx="374.73" cy="159.78" r="4.4" fill="none" stroke="#0000ff" stroke-width="1.8"/>
<circle cx="374.6" cy="159.46" r="4.4" fill="none" stroke="#0000ff" stroke-width="1.8"/>
<circle cx="374.4" cy="159.16" r="4.4" fill="none" stroke="#0000ff" stroke-width="1.8"/>
<circle cx="374.2" cy="158.84" r="4.4" fill="none" stroke="#0000ff" stroke-width="1.8"/>
<circle cx="374" cy="158.53" r="4.4" fill="none" stroke="#0000ff" stroke-width="1.8"/>
<circle cx="373.8" cy="158.23" r="4.4" fill="none" stroke="#0000ff" stroke-width="1.8"/>
<circle cx="373.6" cy="157.93" r="4.4" fill="none" stroke="#0000ff" stroke-width="1.8"/>
<circle cx="373.4" cy="157.63" r="4.4" fill="none" stroke="#0000ff" stroke-width="1.8"/>
<circle cx="373.17" cy="157.35" r="4.4" fill="none" stroke="#0000ff" stroke-width="1.8"/>
<circle cx="372.93" cy="157.05" r="4.4" fill="none" stroke="#0000ff" stroke-width="1.8"/>
<circle cx="372.7" cy="156.77" r="4.4" fill="none" stroke="#0000ff" stroke-width="1.8"/>
<circle cx="372.5" cy="156.49" r="4.4" fill="none" stroke="#0000ff" stroke-width="1.8"/>
<circle cx="372.3" cy="156.21" r="4.4" fill="none" stroke="#0000ff" stroke-width="1.8"/>
<circle cx="372.1" cy="155.93" r="4.4" fill="none" stroke="#0000ff" stroke-width="1.8"/>
<circle cx="371.87" cy="155.67" r="4.4" fill="none" stroke="#0000ff" stroke-width="1.8"/>
<circle cx="371.63" cy="155.39" r="4.4" fill="none" stroke="#0000ff" stroke-width="1.8"/>
<circle cx="371.4" cy="155.13" r="4.4" fill="none" stroke="#0000ff" stroke-width="1.8"/>
<circle cx="371.2" cy="154.87" r="4.4" fill="none" stroke="#0000ff" stroke-width="1.8"/>
<circle cx="371" cy="154.61" r="4.4" fill="none" stroke="#0000ff" stroke-width="1.8"/>
<circle cx="370.8" cy="154.35" r="4.4" fill="none" stroke="#0000ff" stroke-width="1.8"/>
<circle cx="370.57" cy="154.1" r="4.4" fill="none" stroke="#0000ff" stroke-width="1.8"/>
<circle cx="370.33" cy="153.84" r="4.4" fill="none" stroke="#0000ff" stroke-width="1.8"/>
<circle cx="370.1" cy="153.59" r="4.4" fill="none" stroke="#0000ff" stroke-width="1.8"/>
<circle cx="369.87" cy="153.35" r="4.4" fill="none" stroke="#0000ff" stroke-width="1.8"/>
<circle cx="369.63" cy="153.1" r="4.4" fill="none" stroke="#0000ff" stroke-width="1.8"/>
<circle cx="369.4" cy="152.86" r="4.4" fill="none" stroke="#0000ff" stroke-width="1.8"/>
<circle cx="369.2" cy="152.63" r="4.4" fill="none" stroke="#0000ff" stroke-width="1.8"/>
<circle cx="369" cy="152.39" r="4.4" fill="none" stroke="#0000ff" stroke-width="1.8"/>
<circle cx="368.8" cy="152.15" r="4.4" fill="none" stroke="#0000ff" stroke-width="1.8"/>
<circle cx="368.57" cy="151.92" r="4.4" fill="none" stroke="#0000ff" stroke-width="1.8"/>
<circle cx="368.33" cy="151.69" r="4.4" fill="none" stroke="#0000ff" stroke-width="1.8"/>
<circle cx="368.1" cy="151.46" r="4.4" fill="none" stroke="#0000ff" stroke-width="1.8"/>
<circle cx="367.9" cy="151.24" r="4.4" fill="none" stroke="#0000ff" stroke-width="1.8"/>
<circle cx="367.7" cy="151.01" r="4.4" fill="none" stroke="#0000ff" stroke-width="1.8"/>
<circle cx="367.5" cy="150.79" r="4.4" fill="none" stroke="#0000ff" stroke-width="1.8"/>
<circle cx="367.3" cy="150.58" r="4.4" fill="none" stroke="#0000ff" stroke-width="1.8"/>
<circle cx="367.1" cy="150.36" r="4.4" fill="none" stroke="#0000ff" stroke-width="1.8"/>
<circle cx="366.9" cy="150.14" r="4.4" fill="none" stroke="#0000ff" stroke-width="1.8"/>
<circle cx="366.67" cy="149.93" r="4.4" fill="none" stroke="#0000ff" stroke-width="1.8"/>
<circle cx="366.43" cy="149.72" r="4.4" fill="none" stroke="#0000ff" stroke-width="1.8"/>
<circle cx="366.2" cy="149.51" r="4.4" fill="none" stroke="#0000ff" stroke-width="1.8"/>
<circle cx="402" cy="178.98" r="4.4" fill="#fff" stroke="#0000ff" stroke-width="1.8"/>
<circle cx="406.3" cy="178.98" r="4.4" fill="#fff" stroke="#0000ff" stroke-width="1.8"/>
<circle cx="419" cy="176.91" r="4.4" fill="#fff" stroke="#0000ff" stroke-width="1.8"/>
<circle cx="421.3" cy="176.91" r="4.4" fill="#fff" stroke="#0000ff" stroke-width="1.8"/>
<circle cx="428" cy="175.01" r="4.4" fill="#fff" stroke="#0000ff" stroke-width="1.8"/>
<circle cx="435.6" cy="173.25" r="4.4" fill="#fff" stroke="#0000ff" stroke-width="1.8"/>
<circle cx="441.6" cy="171.61" r="4.4" fill="#fff" stroke="#0000ff" stroke-width="1.8"/>
<circle cx="448" cy="170.07" r="4.4" fill="#fff" stroke="#0000ff" stroke-width="1.8"/>
<circle cx="454" cy="168.63" r="4.4" fill="none" stroke="#0000ff" stroke-width="1.8"/>
<circle cx="451" cy="168.63" r="4.4" fill="none" stroke="#0000ff" stroke-width="1.8"/>
<circle cx="455.65" cy="168.18" r="4.4" fill="none" stroke="#0000ff" stroke-width="1.8"/>
<circle cx="457.35" cy="167.72" r="4.4" fill="none" stroke="#0000ff" stroke-width="1.8"/>
<circle cx="452.65" cy="168.18" r="4.4" fill="none" stroke="#0000ff" stroke-width="1.8"/>
<circle cx="454.35" cy="167.72" r="4.4" fill="none" stroke="#0000ff" stroke-width="1.8"/>
<circle cx="459" cy="167.27" r="4.4" fill="none" stroke="#0000ff" stroke-width="1.8"/>
<circle cx="456" cy="167.27" r="4.4" fill="none" stroke="#0000ff" stroke-width="1.8"/>
<circle cx="460.32" cy="166.85" r="4.4" fill="none" stroke="#0000ff" stroke-width="1.8"/>
<circle cx="461.68" cy="166.41" r="4.4" fill="none" stroke="#0000ff" stroke-width="1.8"/>
<circle cx="457.49" cy="166.85" r="4.4" fill="none" stroke="#0000ff" stroke-width="1.8"/>
<circle cx="459.01" cy="166.41" r="4.4" fill="none" stroke="#0000ff" stroke-width="1.8"/>
<circle cx="463" cy="165.99" r="4.4" fill="none" stroke="#0000ff" stroke-width="1.8"/>
<circle cx="460.5" cy="165.99" r="4.4" fill="none" stroke="#0000ff" stroke-width="1.8"/>
<circle cx="463.82" cy="165.59" r="4.4" fill="none" stroke="#0000ff" stroke-width="1.8"/>
<circle cx="464.68" cy="165.17" r="4.4" fill="none" stroke="#0000ff" stroke-width="1.8"/>
<circle cx="462.15" cy="165.59" r="4.4" fill="none" stroke="#0000ff" stroke-width="1.8"/>
<circle cx="463.85" cy="165.17" r="4.4" fill="none" stroke="#0000ff" stroke-width="1.8"/>
<circle cx="465.5" cy="164.77" r="4.4" fill="none" stroke="#0000ff" stroke-width="1.8"/>
<circle cx="465.76" cy="164.39" r="4.4" fill="none" stroke="#0000ff" stroke-width="1.8"/>
<circle cx="466.04" cy="163.99" r="4.4" fill="none" stroke="#0000ff" stroke-width="1.8"/>
<circle cx="466.3" cy="163.61" r="4.4" fill="none" stroke="#0000ff" stroke-width="1.8"/>
<circle cx="466.3" cy="163.24" r="4.4" fill="none" stroke="#0000ff" stroke-width="1.8"/>
<circle cx="466.3" cy="162.87" r="4.4" fill="none" stroke="#0000ff" stroke-width="1.8"/>
<circle cx="466.3" cy="162.5" r="4.4" fill="none" stroke="#0000ff" stroke-width="1.8"/>
<circle cx="466.07" cy="162.15" r="4.4" fill="none" stroke="#0000ff" stroke-width="1.8"/>
<circle cx="465.83" cy="161.79" r="4.4" fill="none" stroke="#0000ff" stroke-width="1.8"/>
<circle cx="465.6" cy="161.45" r="4.4" fill="none" stroke="#0000ff" stroke-width="1.8"/>
<circle cx="465.27" cy="161.11" r="4.4" fill="none" stroke="#0000ff" stroke-width="1.8"/>
<circle cx="464.93" cy="160.77" r="4.4" fill="none" stroke="#0000ff" stroke-width="1.8"/>
<circle cx="464.6" cy="160.43" r="4.4" fill="none" stroke="#0000ff" stroke-width="1.8"/>
<circle cx="464.2" cy="160.11" r="4.4" fill="none" stroke="#0000ff" stroke-width="1.8"/>
<circle cx="463.8" cy="159.78" r="4.4" fill="none" stroke="#0000ff" stroke-width="1.8"/>
<circle cx="463.4" cy="159.46" r="4.4" fill="none" stroke="#0000ff" stroke-width="1.8"/>
<circle cx="462.94" cy="159.16" r="4.4" fill="none" stroke="#0000ff" stroke-width="1.8"/>
<circle cx="462.46" cy="158.84" r="4.4" fill="none" stroke="#0000ff" stroke-width="1.8"/>
<circle cx="462" cy="158.53" r="4.4" fill="none" stroke="#0000ff" stroke-width="1.8"/>
<circle cx="461.18" cy="158.23" r="4.4" fill="none" stroke="#0000ff" stroke-width="1.8"/>
<circle cx="460.32" cy="157.93" r="4.4" fill="none" stroke="#0000ff" stroke-width="1.8"/>
<circle cx="459.5" cy="157.63" r="4.4" fill="none" stroke="#0000ff" stroke-width="1.8"/>
<circle cx="458.68" cy="157.35" r="4.4" fill="none" stroke="#0000ff" stroke-width="1.8"/>
<circle cx="457.82" cy="157.05" r="4.4" fill="none" stroke="#0000ff" stroke-width="1.8"/>
<circle cx="457" cy="156.77" r="4.4" fill="none" stroke="#0000ff" stroke-width="1.8"/>
<circle cx="456.18" cy="156.49" r="4.4" fill="none" stroke="#0000ff" stroke-width="1.8"/>
<circle cx="455.32" cy="156.21" r="4.4" fill="none" stroke="#0000ff" stroke-width="1.8"/>
<circle cx="454.5" cy="155.93" r="4.4" fill="none" stroke="#0000ff" stroke-width="1.8"/>
<circle cx="453.68" cy="155.67" r="4.4" fill="none" stroke="#0000ff" stroke-width="1.8"/>
<circle cx="452.82" cy="155.39" r="4.4" fill="none" stroke="#0000ff" stroke-width="1.8"/>
<circle cx="452" cy="155.13" r="4.4" fill="none" stroke="#0000ff" stroke-width="1.8"/>
<circle cx="451.18" cy="154.87" r="4.4" fill="none" stroke="#0000ff" stroke-width="1.8"/>
<circle cx="450.32" cy="154.61" r="4.4" fill="none" stroke="#0000ff" stroke-width="1.8"/>
<circle cx="449.5" cy="154.35" r="4.4" fill="none" stroke="#0000ff" stroke-width="1.8"/>
<circle cx="448.68" cy="154.1" r="4.4" fill="none" stroke="#0000ff" stroke-width="1.8"/>
<circle cx="447.82" cy="153.84" r="4.4" fill="none" stroke="#0000ff" stroke-width="1.8"/>
<circle cx="447" cy="153.59" r="4.4" fill="none" stroke="#0000ff" stroke-width="1.8"/>
<circle cx="446.18" cy="153.35" r="4.4" fill="none" stroke="#0000ff" stroke-width="1.8"/>
<circle cx="445.32" cy="153.1" r="4.4" fill="none" stroke="#0000ff" stroke-width="1.8"/>
<circle cx="444.5" cy="152.86" r="4.4" fill="none" stroke="#0000ff" stroke-width="1.8"/>
<circle cx="443.68" cy="152.63" r="4.4" fill="none" stroke="#0000ff" stroke-width="1.8"/>
<circle cx="442.82" cy="152.39" r="4.4" fill="none" stroke="#0000ff" stroke-width="1.8"/>
<circle cx="442" cy="152.15" r="4.4" fill="none" stroke="#0000ff" stroke-width="1.8"/>
<circle cx="441.18" cy="151.92" r="4.4" fill="none" stroke="#0000ff" stroke-width="1.8"/>
<circle cx="440.32" cy="151.69" r="4.4" fill="none" stroke="#0000ff" stroke-width="1.8"/>
<circle cx="439.5" cy="151.46" r="4.4" fill="none" stroke="#0000ff" stroke-width="1.8"/>
<circle cx="438.68" cy="151.24" r="4.4" fill="none" stroke="#0000ff" stroke-width="1.8"/>
<circle cx="437.82" cy="151.01" r="4.4" fill="none" stroke="#0000ff" stroke-width="1.8"/>
<circle cx="437" cy="150.79" r="4.4" fill="none" stroke="#0000ff" stroke-width="1.8"/>
<circle cx="436.18" cy="150.58" r="4.4" fill="none" stroke="#0000ff" stroke-width="1.8"/>
<circle cx="435.32" cy="150.36" r="4.4" fill="none" stroke="#0000ff" stroke-width="1.8"/>
<circle cx="434.5" cy="150.14" r="4.4" fill="none" stroke="#0000ff" stroke-width="1.8"/>
<circle cx="433.68" cy="149.93" r="4.4" fill="none" stroke="#0000ff" stroke-width="1.8"/>
<circle cx="432.82" cy="149.72" r="4.4" fill="none" stroke="#0000ff" stroke-width="1.8"/>
<circle cx="432" cy="149.51" r="4.4" fill="none" stroke="#0000ff" stroke-width="1.8"/>
<circle cx="431.18" cy="149.3" r="4.4" fill="none" stroke="#0000ff" stroke-width="1.8"/>
<circle cx="430.32" cy="149.09" r="4.4" fill="none" stroke="#0000ff" stroke-width="1.8"/>
<circle cx="429.5" cy="148.89" r="4.4" fill="none" stroke="#0000ff" stroke-width="1.8"/>
<circle cx="428.68" cy="148.69" r="4.4" fill="none" stroke="#0000ff" stroke-width="1.8"/>
<circle cx="427.82" cy="148.49" r="4.4" fill="none" stroke="#0000ff" stroke-width="1.8"/>
<circle cx="427" cy="148.29" r="4.4" fill="none" stroke="#0000ff" stroke-width="1.8"/>
<circle cx="461" cy="169" r="4.4" fill="#fff" stroke="#0000ff" stroke-width="1.8"/>
<circle cx="458.33" cy="169.73" r="4.4" fill="#fff" stroke="#0000ff" stroke-width="1.8"/>
<circle cx="455.67" cy="170.47" r="4.4" fill="#fff" stroke="#0000ff" stroke-width="1.8"/>
<circle cx="453" cy="171.2" r="4.4" fill="#fff" stroke="#0000ff" stroke-width="1.8"/>
<circle cx="450.33" cy="171.93" r="4.4" fill="#fff" stroke="#0000ff" stroke-width="1.8"/>
<circle cx="447.67" cy="172.67" r="4.4" fill="#fff" stroke="#0000ff" stroke-width="1.8"/>
<circle cx="445" cy="173.4" r="4.4" fill="#fff" stroke="#0000ff" stroke-width="1.8"/>
<path d="M300.01,8.01 L299.45,8.13 L298.9,8.26 L298.35,8.38 L297.8,8.51 L297.25,8.63 L296.7,8.76 L296.15,8.89 L295.6,9.01 L295.06,9.14 L294.51,9.26 L293.96,9.39 L293.41,9.52 L292.87,9.64 L292.32,9.77 L291.78,9.89 L291.23,10.02 L290.69,10.15 L290.14,10.27 L289.6,10.4 L289.06,10.53 L288.51,10.66 L287.97,10.78 L287.43,10.91 L286.89,11.04 L286.35,11.16 L285.81,11.29 L285.27,11.42 L284.72,11.54 L284.18,11.67 L283.65,11.8 L283.11,11.93 L282.57,12.05 L282.03,12.18 L281.49,12.31 L280.95,12.43 L280.41,12.56 L279.88,12.69 L279.34,12.82 L278.8,12.94 L278.27,13.07 L277.73,13.2 L277.19,13.33 L276.66,13.45 L276.12,13.58 L275.59,13.71 L275.05,13.84 L274.52,13.96 L273.98,14.09 L273.45,14.22 L272.91,14.34 L272.38,14.47 L271.84,14.6 L271.31,14.73 L270.78,14.85 L270.24,14.98 L269.71,15.11 L269.18,15.23 L268.64,15.36 L268.11,15.49 L267.58,15.61 L267.04,15.74 L266.51,15.87 L265.98,15.99 L265.44,16.12 L264.91,16.25 L264.38,16.37 L263.85,16.5 L263.31,16.63 L262.78,16.75 L262.25,16.88 L261.72,17.01 L261.18,17.13 L260.65,17.26 L260.12,17.38 L259.59,17.51 L259.06,17.63 L258.52,17.76 L257.99,17.89 L257.46,18.01 L256.93,18.14 L256.39,18.26 L255.86,18.39 L255.33,18.51 L254.8,18.64 L254.26,18.76 L253.73,18.89 L253.2,19.01 L252.66,19.13 L252.13,19.26 L251.6,19.38 L251.07,19.51 L250.53,19.63 L250,19.75 L249.46,19.88 L248.93,20 L248.4,20.12 L247.86,20.25 L247.33,20.37 L246.79,20.49 L246.26,20.62 L245.72,20.74 L245.19,20.86 L244.65,20.98 L244.12,21.1 L243.58,21.23 L243.05,21.35 L242.51,21.47 L241.97,21.59 L241.44,21.71 L240.9,21.83 L240.36,21.95 L239.83,22.07 L239.29,22.19 L238.75,22.32 L238.21,22.44 L237.67,22.55 L237.13,22.67 L236.6,22.79 L236.06,22.91 L235.52,23.03 L234.98,23.15 L234.44,23.27 L233.89,23.39 L233.35,23.51 L232.81,23.62 L232.27,23.74 L231.73,23.86 L231.18,23.98 L230.64,24.09 L230.1,24.21 L229.55,24.33 L229.01,24.44 L228.47,24.56 L227.92,24.67 L227.37,24.79 L226.83,24.91 L226.28,25.02 L225.73,25.14 L225.19,25.25 L224.64,25.36 L224.09,25.48 L223.54,25.59 L222.99,25.71 L222.44,25.82 L221.89,25.94 L221.34,26.05 L220.79,26.16 L220.24,26.28 L219.69,26.4 L219.14,26.51 L218.59,26.63 L218.04,26.75 L217.49,26.87 L216.94,26.99 L216.39,27.11 L215.84,27.23 L215.3,27.36 L214.75,27.48 L214.2,27.61 L213.65,27.74 L213.1,27.86 L212.56,28 L212.01,28.13 L211.46,28.26 L210.92,28.4 L210.37,28.54 L209.83,28.68 L209.29,28.83 L208.75,28.97 L208.21,29.12 L207.67,29.27 L207.13,29.43 L206.59,29.58 L206.05,29.74 L205.51,29.9 L204.98,30.07 L204.45,30.24 L203.91,30.41 L203.38,30.58 L202.85,30.76 L202.32,30.94 L201.8,31.13 L201.27,31.31 L200.75,31.51 L200.23,31.7 L199.7,31.9 L199.19,32.11 L198.67,32.31 L198.15,32.53 L197.64,32.74 L197.13,32.96 L196.62,33.19 L196.11,33.42 L195.6,33.65 L195.1,33.89 L194.59,34.13 L194.09,34.38 L193.6,34.63 L193.1,34.89 L192.61,35.16 L192.12,35.43 L191.63,35.7 L191.14,35.98 L190.66,36.26 L190.17,36.56 L189.69,36.85 L189.22,37.15 L188.74,37.46 L188.27,37.78 L187.8,38.1 L187.34,38.42 L186.87,38.75 L186.41,39.09 L185.96,39.44 L185.5,39.79 L185.05,40.15 L184.6,40.51 L184.16,40.88 L183.72,41.26 L183.28,41.64 L182.85,42.03 L182.42,42.43 L182,42.82 L181.59,43.23 L181.18,43.64 L180.78,44.05 L180.39,44.47 L180.01,44.89 L179.63,45.32 L179.26,45.74 L178.91,46.18 L178.56,46.61 L178.22,47.05 L177.9,47.49 L177.59,47.94 L177.28,48.38 L176.99,48.83 L176.72,49.28 L176.45,49.73 L176.2,50.18 L175.96,50.64 L175.74,51.09 L175.54,51.55 L175.34,52 L175.17,52.46 L175.01,52.91 L174.87,53.37 L174.74,53.82 L174.63,54.28 L174.54,54.73 L174.47,55.18 L174.42,55.63 L174.39,56.08 L174.38,56.53 L174.39,56.97 L174.42,57.41 L174.47,57.85 L174.54,58.29 L174.63,58.73 L174.74,59.16 L174.87,59.59 L175.03,60.01 L175.2,60.44 L175.38,60.86 L175.59,61.28 L175.81,61.69 L176.05,62.11 L176.3,62.52 L176.57,62.93 L176.86,63.34 L177.16,63.74 L177.47,64.14 L177.79,64.54 L178.13,64.94 L178.48,65.33 L178.84,65.72 L179.21,66.11 L179.59,66.5 L179.98,66.89 L180.38,67.27 L180.79,67.65 L181.2,68.03 L181.63,68.41 L182.06,68.78 L182.49,69.15 L182.93,69.52 L183.38,69.89 L183.83,70.26 L184.29,70.62 L184.75,70.99 L185.21,71.35 L185.67,71.7 L186.14,72.06 L186.61,72.41 L187.07,72.77 L187.54,73.12 L188.01,73.47 L188.48,73.81 L188.95,74.16 L189.42,74.5 L189.9,74.84 L190.37,75.18 L190.84,75.52 L191.31,75.85 L191.79,76.18 L192.26,76.52 L192.74,76.85 L193.22,77.17 L193.69,77.5 L194.17,77.82 L194.65,78.15 L195.12,78.47 L195.6,78.79 L196.08,79.1 L196.56,79.42 L197.04,79.73 L197.52,80.05 L198.01,80.36 L198.49,80.66 L198.97,80.97 L199.46,81.28 L199.94,81.58 L200.42,81.88 L200.91,82.18 L201.39,82.48 L201.88,82.78 L202.37,83.07 L202.85,83.36 L203.34,83.65 L203.83,83.94 L204.32,84.23 L204.81,84.52 L205.3,84.8 L205.79,85.09 L206.28,85.37 L206.77,85.65 L207.26,85.93 L207.75,86.21 L208.25,86.48 L208.74,86.75 L209.24,87.03 L209.73,87.3 L210.22,87.57 L210.72,87.83 L211.22,88.1 L211.71,88.37 L212.21,88.63 L212.71,88.89 L213.2,89.15 L213.7,89.41 L214.2,89.67 L214.7,89.92 L215.2,90.18 L215.7,90.43 L216.2,90.68 L216.7,90.93 L217.2,91.18 L217.7,91.42 L218.21,91.67 L218.71,91.91 L219.21,92.16 L219.72,92.4 L220.22,92.64 L220.73,92.88 L221.23,93.11 L221.74,93.35 L222.24,93.58 L222.75,93.82 L223.25,94.05 L223.76,94.28 L224.27,94.51 L224.78,94.74 L225.29,94.96 L225.79,95.19 L226.3,95.41 L226.81,95.63 L227.32,95.86 L227.83,96.08 L228.34,96.29 L228.85,96.51 L229.37,96.73 L229.88,96.94 L230.39,97.16 L230.9,97.37 L231.42,97.58 L231.93,97.79 L232.44,98 L232.96,98.21 L233.47,98.41 L233.99,98.62 L234.5,98.82 L235.02,99.03 L235.53,99.23 L236.05,99.43 L236.57,99.63 L237.08,99.83 L237.6,100.02 L238.12,100.22 L238.63,100.42 L239.15,100.61 L239.67,100.8 L240.19,101 L240.71,101.19 L241.23,101.38 L241.75,101.56 L242.27,101.75 L242.79,101.94 L243.31,102.12 L243.83,102.31 L244.35,102.49 L244.87,102.68 L245.4,102.86 L245.92,103.04 L246.44,103.22 L246.96,103.4 L247.49,103.57 L248.01,103.75 L248.53,103.93 L249.06,104.1 L249.58,104.27 L250.11,104.45 L250.63,104.62 L251.16,104.79 L251.68,104.96 L252.21,105.13 L252.73,105.3 L253.26,105.46 L253.78,105.63 L254.31,105.8 L254.84,105.96 L255.36,106.13 L255.89,106.29 L256.42,106.45 L256.95,106.61 L257.48,106.77 L258,106.93 L258.53,107.09 L259.06,107.25 L259.59,107.41 L260.12,107.56 L260.65,107.72 L261.18,107.88 L261.71,108.03 L262.24,108.18 L262.77,108.34 L263.3,108.49 L263.83,108.64 L264.36,108.79 L264.89,108.94 L265.42,109.09 L265.95,109.24 L266.48,109.39 L267.01,109.53 L267.55,109.68 L268.08,109.83 L268.61,109.97 L269.14,110.12 L269.67,110.26 L270.21,110.4 L270.74,110.55 L271.27,110.69 L271.81,110.83 L272.34,110.97 L272.87,111.11 L273.4,111.25 L273.94,111.39 L274.47,111.53 L275.01,111.67 L275.54,111.8 L276.07,111.94 L276.61,112.08 L277.14,112.21 L277.68,112.35 L278.21,112.48 L278.75,112.62 L279.28,112.75 L279.82,112.88 L280.35,113.02 L280.89,113.15 L281.42,113.28 L281.96,113.41 L282.49,113.54 L283.03,113.67 L283.56,113.8 L284.1,113.93 L284.64,114.06 L285.17,114.19 L285.71,114.32 L286.24,114.45 L286.78,114.57 L287.32,114.7 L287.85,114.83 L288.39,114.95 L288.92,115.08 L289.46,115.21 L290,115.33 L290.53,115.46 L291.07,115.58 L291.61,115.71 L292.14,115.83 L292.68,115.95 L293.22,116.08 L293.75,116.2 L294.29,116.32 L294.83,116.45 L295.36,116.57 L295.9,116.69 L296.44,116.81 L296.98,116.93 L297.51,117.06 L298.05,117.18 L298.59,117.3 L299.12,117.42 L299.66,117.54 L300.2,117.66 L300.73,117.78 L301.27,117.9 L301.81,118.02 L302.34,118.14 L302.88,118.26 L303.42,118.38 L303.96,118.5 L304.49,118.62 L305.03,118.74 L305.57,118.86 L306.1,118.98 L306.64,119.09 L307.18,119.21 L307.71,119.33 L308.25,119.45 L308.79,119.57 L309.32,119.69 L309.86,119.81 L310.4,119.92 L310.93,120.04 L311.47,120.16 L312,120.28 L312.54,120.4 L313.08,120.51 L313.61,120.63 L314.15,120.75 L314.68,120.87 L315.22,120.99 L315.76,121.11 L316.29,121.22 L316.83,121.34 L317.36,121.46 L317.9,121.58 L318.43,121.7 L318.97,121.82 L319.5,121.94 L320.04,122.06 L320.57,122.17 L321.11,122.29 L321.64,122.41 L322.18,122.53 L322.71,122.65 L323.25,122.77 L323.78,122.89 L324.31,123.01 L324.85,123.13 L325.38,123.25 L325.92,123.37 L326.45,123.49 L326.98,123.61 L327.52,123.73 L328.05,123.85 L328.58,123.97 L329.12,124.09 L329.65,124.21 L330.18,124.34 L330.72,124.46 L331.25,124.58 L331.78,124.7 L332.32,124.82 L332.85,124.94 L333.38,125.06 L333.92,125.19 L334.45,125.31 L334.98,125.43 L335.51,125.55 L336.05,125.68 L336.58,125.8 L337.11,125.92 L337.64,126.04 L338.18,126.17 L338.71,126.29 L339.24,126.41 L339.77,126.54 L340.31,126.66 L340.84,126.78 L341.37,126.91 L341.9,127.03 L342.44,127.16 L342.97,127.28 L343.5,127.4 L344.03,127.53 L344.57,127.65 L345.1,127.78 L345.63,127.9 L346.16,128.03 L346.69,128.15 L347.23,128.28 L347.76,128.4 L348.29,128.53 L348.82,128.65 L349.36,128.78 L349.89,128.91 L350.42,129.03 L350.95,129.16 L351.49,129.28 L352.02,129.41 L352.55,129.54 L353.08,129.66 L353.62,129.79 L354.15,129.92 L354.68,130.05 L355.21,130.17 L355.75,130.3 L356.28,130.43 L356.81,130.56 L357.34,130.68 L357.88,130.81 L358.41,130.94 L358.94,131.07 L359.48,131.2 L360.01,131.33 L360.54,131.46 L361.08,131.58 L361.61,131.71 L362.14,131.84 L362.68,131.97 L363.21,132.1 L363.74,132.23 L364.28,132.36 L364.81,132.49 L365.34,132.62 L365.88,132.75 L366.41,132.88 L366.95,133.01 L367.48,133.15 L368.01,133.28 L368.55,133.41 L369.08,133.54 L369.62,133.67 L370.15,133.8 L370.69,133.93 L371.22,134.07 L371.76,134.2 L372.29,134.33 L372.83,134.46 L373.36,134.6 L373.9,134.73 L374.43,134.86 L374.97,135 L375.51,135.13 L376.04,135.26 L376.58,135.4 L377.11,135.53 L377.65,135.66 L378.19,135.8 L378.72,135.93 L379.26,136.07 L379.8,136.2 L380.33,136.34 L380.87,136.47 L381.41,136.61 L381.95,136.74 L382.48,136.88 L383.02,137.01 L383.56,137.15 L384.1,137.29 L384.64,137.42 L385.18,137.56 L385.71,137.7 L386.25,137.83 L386.79,137.97 L387.33,138.11 L387.87,138.24 L388.41,138.38 L388.95,138.52 L389.49,138.66 L390.03,138.8 L390.57,138.93 L391.11,139.07 L391.65,139.21 L392.19,139.35 L392.73,139.49 L393.28,139.63 L393.82,139.77 L394.36,139.91 L394.9,140.05 L395.44,140.19 L395.98,140.33 L396.53,140.47 L397.07,140.61 L397.61,140.75 L398.16,140.89 L398.7,141.03 L399.24,141.17 L399.79,141.32 L400.33,141.46 L400.88,141.6 L401.42,141.74 L401.97,141.88 L402.51,142.03 L403.06,142.17 L403.6,142.31 L404.15,142.45 L404.69,142.6 L405.24,142.74 L405.79,142.89 L406.33,143.03 L406.88,143.17 L407.43,143.32 L407.98,143.46 L408.52,143.61 L409.07,143.75 L409.62,143.9 L410.17,144.04 L410.72,144.19 L411.27,144.33 L411.82,144.48 L412.37,144.63 L412.92,144.77 L413.47,144.92 L414.02,145.07 L414.57,145.21 L415.12,145.36 L415.67,145.51 L416.22,145.66 L416.78,145.8 L417.33,145.95 L417.88,146.1 L418.44,146.25 L418.99,146.4 L419.54,146.55 L420.1,146.7 L420.65,146.84 L421.21,146.99 L421.76,147.14 L422.32,147.29 L422.87,147.44 L423.43,147.59 L423.98,147.75 L424.54,147.9 L425.1,148.05 L425.66,148.2 L426.21,148.35 L426.77,148.5 L427.33,148.65 L427.89,148.81 L428.45,148.96 L429.01,149.11 L429.57,149.26 L430.13,149.42 L430.69,149.57 L431.25,149.72 L431.81,149.88 L432.37,150.03 L432.93,150.19 L433.49,150.34 L434.05,150.5 L434.61,150.66 L435.17,150.82 L435.73,150.98 L436.29,151.14 L436.84,151.3 L437.4,151.46 L437.95,151.63 L438.51,151.8 L439.06,151.97 L439.61,152.14 L440.16,152.31 L440.7,152.49 L441.25,152.67 L441.79,152.85 L442.33,153.03 L442.86,153.22 L443.4,153.41 L443.93,153.6 L444.45,153.8 L444.98,154 L445.5,154.2 L446.02,154.41 L446.53,154.62 L447.05,154.83 L447.55,155.05 L448.06,155.27 L448.56,155.49 L449.05,155.72 L449.54,155.96 L450.03,156.2 L450.51,156.44 L450.99,156.69 L451.46,156.94 L451.93,157.2 L452.39,157.46 L452.85,157.73 L453.3,158 L453.75,158.28 L454.19,158.56 L454.62,158.85 L455.05,159.15 L455.47,159.45 L455.89,159.76 L456.29,160.07 L456.68,160.39 L457.06,160.71 L457.41,161.03 L457.75,161.36 L458.06,161.69 L458.35,162.01 L458.61,162.34 L458.83,162.67 L459.03,163 L459.18,163.33 L459.3,163.66 L459.37,163.98 L459.4,164.3 L459.39,164.62 L459.32,164.93 L459.22,165.24 L459.07,165.54 L458.88,165.84 L458.66,166.14 L458.4,166.43 L458.11,166.71 L457.8,167 L457.46,167.27 L457.09,167.54 L456.71,167.81 L456.31,168.07 L455.89,168.32 L455.46,168.57 L455.02,168.81 L454.57,169.04 L454.12,169.27 L453.66,169.5 L453.2,169.71 L452.73,169.93 L452.26,170.13 L451.79,170.33 L451.31,170.53 L450.82,170.72 L450.33,170.9 L449.84,171.08 L449.34,171.26 L448.84,171.43 L448.33,171.59 L447.83,171.75 L447.31,171.91 L446.8,172.06 L446.28,172.21 L445.76,172.35 L445.23,172.5 L444.7,172.63 L444.17,172.77 L443.64,172.9 L443.1,173.02 L442.56,173.14 L442.02,173.27 L441.48,173.38 L440.93,173.5 L440.39,173.61 L439.84,173.72 L439.29,173.83 L438.73,173.93 L438.18,174.03 L437.62,174.13 L437.07,174.23 L436.51,174.33 L435.95,174.43 L435.39,174.52 L434.83,174.61 L434.27,174.71 L433.7,174.8 L433.14,174.89 L432.58,174.98 L432.01,175.06 L431.45,175.15 L430.89,175.24 L430.32,175.33 L429.76,175.41 L429.2,175.5 L428.63,175.59 L428.07,175.67 L427.51,175.76 L426.94,175.84 L426.38,175.93 L425.82,176.01 L425.26,176.1 L424.69,176.18 L424.13,176.27 L423.57,176.35 L423.01,176.44 L422.44,176.52 L421.88,176.6 L421.32,176.69 L420.76,176.77 L420.2,176.85 L419.64,176.94 L419.07,177.02 L418.51,177.1 L417.95,177.18 L417.39,177.26 L416.83,177.34 L416.27,177.43 L415.71,177.51 L415.15,177.59 L414.58,177.67 L414.02,177.75 L413.46,177.83 L412.9,177.91 L412.34,177.99 L411.78,178.07 L411.22,178.14 L410.66,178.22 L410.1,178.3 L409.54,178.38 L408.98,178.46 L408.42,178.54 L407.86,178.61 L407.3,178.69 L406.74,178.77 L406.18,178.84 L405.62,178.92 L405.06,179 L404.5,179.07 L403.95,179.15 L403.39,179.22 L402.83,179.3 L402.27,179.38 L401.71,179.45 L401.15,179.53 L400.59,179.6 L400.03,179.67 L399.48,179.75 L398.92,179.82 L398.36,179.9 L397.8,179.97 L397.24,180.04 L396.68,180.12 L396.13,180.19 L395.57,180.26 L395.01,180.33 L394.45,180.41 L393.9,180.48 L393.34,180.55 L392.78,180.62 L392.22,180.69 L391.67,180.76 L391.11,180.83 L390.55,180.9 L389.99,180.98 L389.44,181.05 L388.88,181.12 L388.32,181.19 L387.77,181.26 L387.21,181.32 L386.65,181.39 L386.1,181.46 L385.54,181.53 L384.98,181.6 L384.43,181.67 L383.87,181.74 L383.32,181.8 L382.76,181.87 L382.2,181.94 L381.65,182.01 L381.09,182.07 L380.54,182.14 L379.98,182.21 L379.42,182.27 L378.87,182.34 L378.31,182.41 L377.76,182.47 L377.2,182.54 L376.65,182.6 L376.09,182.67 L375.54,182.73 L374.98,182.8 L374.43,182.86 L373.87,182.93 L373.32,182.99 L372.76,183.06 L372.21,183.12 L371.65,183.19 L371.1,183.25 L370.54,183.31 L369.99,183.38 L369.44,183.44 L368.88,183.5 L368.33,183.56 L367.77,183.63 L367.22,183.69 L366.66,183.75 L366.11,183.81 L365.56,183.87 L365,183.94 L364.45,184 L363.89,184.06 L363.34,184.12 L362.79,184.18 L362.23,184.24 L361.68,184.3 L361.13,184.36 L360.57,184.42 L360.02,184.48 L359.47,184.54 L358.91,184.6 L358.36,184.66 L357.81,184.72 L357.25,184.78 L356.7,184.84 L356.15,184.9 L355.6,184.96 L355.04,185.01 L354.49,185.07 L353.94,185.13 L353.38,185.19 L352.83,185.24 L352.28,185.3 L351.73,185.36 L351.17,185.42 L350.62,185.47 L350.07,185.53 L349.52,185.59 L348.97,185.64 L348.41,185.7 L347.86,185.76 L347.31,185.81 L346.76,185.87 L346.21,185.92 L345.65,185.98 L345.1,186.03 L344.55,186.09 L344,186.14 L343.45,186.2 L342.89,186.25 L342.34,186.31 L341.79,186.36 L341.24,186.42 L340.69,186.47 L340.14,186.52 L339.59,186.58 L339.04,186.63 L338.48,186.68 L337.93,186.74 L337.38,186.79 L336.83,186.84 L336.28,186.9 L335.73,186.95 L335.18,187 L334.63,187.05 L334.08,187.11 L333.53,187.16 L332.97,187.21 L332.42,187.26 L331.87,187.31 L331.32,187.36 L330.77,187.41 L330.22,187.47 L329.67,187.52 L329.12,187.57 L328.57,187.62 L328.02,187.67 L327.47,187.72 L326.92,187.77 L326.37,187.82 L325.82,187.87 L325.27,187.92 L324.72,187.97 L324.17,188.02 L323.62,188.07 L323.07,188.12 L322.52,188.17 L321.97,188.21 L321.42,188.26 L320.87,188.31 L320.32,188.36 L319.77,188.41 L319.22,188.46 L318.67,188.5 L318.12,188.55 L317.57,188.6 L317.02,188.65 L316.47,188.7 L315.92,188.74 L315.37,188.79 L314.82,188.84 L314.27,188.88 L313.72,188.93 L313.17,188.98 L312.62,189.02 L312.08,189.07 L311.53,189.12 L310.98,189.16 L310.43,189.21 L309.88,189.26 L309.33,189.3 L308.78,189.35 L308.23,189.39 L307.68,189.44 L307.13,189.48 L306.58,189.53 L306.04,189.57 L305.49,189.62 L304.94,189.66 L304.39,189.71 L303.84,189.75 L303.29,189.8 L302.74,189.84 L302.19,189.89 L301.64,189.93 L301.1,189.97 L300.55,190.02 L300,190.06 L299.45,190.11 L298.9,190.15 L298.35,190.19 L297.8,190.24 L297.26,190.28 L296.71,190.32 L296.16,190.37 L295.61,190.41 L295.06,190.45 L294.51,190.49 L293.96,190.54 L293.42,190.58 L292.87,190.62 L292.32,190.66 L291.77,190.71 L291.22,190.75 L290.67,190.79 L290.13,190.83 L289.58,190.87 L289.03,190.92 L288.48,190.96 L287.93,191 L287.39,191.04 L286.84,191.08 L286.29,191.12 L285.74,191.16 L285.19,191.2 L284.64,191.24 L284.1,191.28 L283.55,191.33 L283,191.37 L282.45,191.41 L281.9,191.45 L281.36,191.49 L280.81,191.53 L280.26,191.57 L279.71,191.61 L279.16,191.65 L278.62,191.69 L278.07,191.73 L277.52,191.77 L276.97,191.81 L276.43,191.84 L275.88,191.88 L275.33,191.92 L274.78,191.96 L274.23,192 L273.69,192.04 L273.14,192.08 L272.59,192.12 L272.04,192.16 L271.49,192.19 L270.95,192.23 L270.4,192.27 L269.85,192.31 L269.3,192.35 L268.76,192.39 L268.21,192.42 L267.66,192.46 L267.11,192.5 L266.57,192.54 L266.02,192.58 L265.47,192.61 L264.92,192.65 L264.37,192.69 L263.83,192.73 L263.28,192.76 L262.73,192.8 L262.18,192.84 L261.64,192.87 L261.09,192.91 L260.54,192.95 L259.99,192.99 L259.44,193.02 L258.9,193.06 L258.35,193.1 L257.8,193.13 L257.25,193.17 L256.71,193.21 L256.16,193.24 L255.61,193.28 L255.06,193.31 L254.52,193.35 L253.97,193.39 L253.42,193.42 L252.87,193.46 L252.32,193.5 L251.78,193.53 L251.23,193.57 L250.68,193.6 L250.13,193.64 L249.59,193.67 L249.04,193.71 L248.49,193.74 L247.94,193.78 L247.4,193.82 L246.85,193.85 L246.3,193.89 L245.75,193.92 L245.2,193.96 L244.66,193.99 L244.11,194.03 L243.56,194.06 L243.01,194.1 L242.47,194.13 L241.92,194.17 L241.37,194.2 L240.82,194.24 L240.27,194.27 L239.73,194.3 L239.18,194.34 L238.63,194.37 L238.08,194.41 L237.53,194.44 L236.99,194.48 L236.44,194.51 L235.89,194.55 L235.34,194.58 L234.8,194.61 L234.25,194.65 L233.7,194.68 L233.15,194.72 L232.6,194.75 L232.06,194.78 L231.51,194.82 L230.96,194.85 L230.41,194.89 L229.86,194.92 L229.31,194.95 L228.77,194.99 L228.22,195.02 L227.67,195.05 L227.12,195.09 L226.57,195.12 L226.03,195.15 L225.48,195.19 L224.93,195.22 L224.38,195.26 L223.83,195.29 L223.28,195.32 L222.74,195.36 L222.19,195.39 L221.64,195.42 L221.09,195.45 L220.54,195.49 L219.99,195.52 L219.45,195.55 L218.9,195.59 L218.35,195.62 L217.8,195.65 L217.25,195.69 L216.7,195.72 L216.15,195.75 L215.61,195.79 L215.06,195.82 L214.51,195.85 L213.96,195.88 L213.41,195.92 L212.86,195.95 L212.31,195.98 L211.76,196.01 L211.22,196.05 L210.67,196.08 L210.12,196.11 L209.57,196.15 L209.02,196.18 L208.47,196.21 L207.92,196.24 L207.37,196.28 L206.82,196.31 L206.27,196.34 L205.73,196.37 L205.18,196.41 L204.63,196.44 L204.08,196.47 L203.53,196.5 L202.98,196.54 L202.43,196.57 L201.88,196.6 L201.33,196.63 L200.78,196.67 L200.23,196.7 L199.68,196.73 L199.13,196.76 L198.58,196.8 L198.03,196.83 L197.48,196.86 L196.94,196.89 L196.39,196.92 L195.84,196.96 L195.29,196.99 L194.74,197.02 L194.19,197.05 L193.64,197.09 L193.09,197.12 L192.54,197.15 L191.99,197.18 L191.44,197.22 L190.89,197.25 L190.34,197.28 L189.79,197.31 L189.24,197.35 L188.69,197.38 L188.14,197.41 L187.59,197.44 L187.03,197.47 L186.48,197.51 L185.93,197.54 L185.38,197.57 L184.83,197.6 L184.28,197.64 L183.73,197.67 L183.18,197.7 L182.63,197.73 L182.08,197.77 L181.53,197.8 L180.98,197.83 L180.43,197.86 L179.88,197.9 L179.33,197.93 L178.77,197.96 L178.22,197.99 L177.67,198.03 L177.12,198.06 L176.57,198.09 L176.02,198.12 L175.47,198.16 L174.92,198.19 L174.36,198.22 L173.81,198.25 L173.26,198.29 L172.71,198.32 L172.16,198.35 L171.61,198.39 L171.06,198.42 L170.5,198.45 L169.95,198.48 L169.4,198.52 L168.85,198.55 L168.3,198.58 L167.74,198.61 L167.19,198.65 L166.64,198.68 L166.09,198.71 L165.54,198.75 L164.98,198.78 L164.43,198.81 L163.88,198.85 L163.33,198.88 L162.77,198.91 L162.22,198.95 L161.67,198.98 L161.12,199.01 L160.56,199.05 L160.01,199.08 L159.46,199.11 L158.9,199.15 L158.35,199.18 L157.8,199.21 L157.25,199.25 L156.69,199.28 L156.14,199.31 L155.59,199.35 L155.03,199.38 L154.48,199.41 L153.93,199.45 L153.37,199.48 L152.82,199.51 L152.26,199.55 L151.71,199.58 L151.16,199.62 L150.6,199.65 L150.05,199.68 L149.5,199.72 L148.94,199.75 L148.39,199.79 L147.83,199.82 L147.28,199.85 L146.72,199.89 L146.17,199.92 L145.62,199.96 L145.06,199.99 L144.51,200.03 L143.95,200.06 L143.4,200.1 L142.84,200.13 L142.29,200.17 L141.73,200.2 L141.18,200.23 L140.62,200.27 L140.07,200.3 L139.51,200.34 L138.96,200.37 L138.4,200.41 L137.85,200.44 L137.29,200.48 L136.74,200.51 L136.18,200.55 L135.63,200.59 L135.07,200.62 L134.51,200.66 L133.96,200.69 L133.4,200.73 L132.85,200.76 L132.29,200.8 L131.73,200.83 L131.18,200.87 L130.62,200.91 L130.07,200.94 L129.51,200.98 L128.95,201.01 L128.4,201.05 L127.84,201.09 L127.28,201.12 L126.73,201.16 L126.17,201.2 L125.61,201.23 L125.05,201.27 L124.5,201.31 L123.94,201.34 L123.38,201.38 L122.83,201.42 L122.27,201.45 L121.71,201.49 L121.15,201.53 L120.6,201.56 L120.04,201.6 L119.48,201.64 L118.92,201.68 L118.36,201.71 L117.81,201.75 L117.25,201.79 L116.69,201.83 L116.13,201.86 L115.57,201.9 L115.01,201.94 L114.46,201.98 L113.9,202.02 L113.34,202.05 L112.78,202.09 L112.22,202.13 L111.66,202.17 L111.1,202.21 L110.54,202.25 L109.98,202.29 L109.42,202.32 L108.87,202.36 L108.31,202.4 L107.75,202.44 L107.19,202.48 L106.63,202.52 L106.07,202.56 L105.51,202.6 L104.95,202.64 L104.39,202.68 L103.83,202.72 L103.27,202.76 L102.71,202.8 L102.14,202.84 L101.58,202.88 L101.02,202.92 L100.46,202.96 L99.9,203 L99.34,203.04 L98.78,203.08 L98.22,203.12 L97.66,203.16 L97.1,203.2 L96.53,203.24 L95.97,203.28 L95.41,203.32 L94.85,203.36 L94.29,203.41 L93.73,203.45 L93.16,203.49 L92.6,203.53 L92.04,203.57 L91.48,203.61 L90.91,203.66 L90.35,203.7 L89.79,203.74" fill="none" stroke="#ff0000" stroke-width="3.0" stroke-linejoin="round" stroke-linecap="round" />
<path d="M299.93,7.81 L299.52,7.99 L299.12,8.17 L298.71,8.34 L298.31,8.52 L297.9,8.69 L297.49,8.86 L297.09,9.02 L296.68,9.19 L296.27,9.35 L295.86,9.51 L295.45,9.67 L295.04,9.83 L294.63,9.99 L294.21,10.14 L293.8,10.29 L293.39,10.45 L292.97,10.59 L292.56,10.74 L292.14,10.89 L291.73,11.03 L291.31,11.17 L290.9,11.31 L290.48,11.45 L290.06,11.59 L289.64,11.73 L289.22,11.86 L288.8,11.99 L288.38,12.12 L287.96,12.25 L287.54,12.38 L287.12,12.51 L286.7,12.63 L286.27,12.75 L285.85,12.88 L285.43,13 L285,13.12 L284.58,13.23 L284.15,13.35 L283.73,13.46 L283.3,13.58 L282.88,13.69 L282.45,13.8 L282.02,13.91 L281.6,14.02 L281.17,14.12 L280.74,14.23 L280.31,14.33 L279.88,14.44 L279.45,14.54 L279.02,14.64 L278.59,14.74 L278.16,14.84 L277.73,14.94 L277.3,15.03 L276.86,15.13 L276.43,15.22 L276,15.31 L275.57,15.41 L275.13,15.5 L274.7,15.59 L274.26,15.68 L273.83,15.76 L273.39,15.85 L272.96,15.94 L272.52,16.02 L272.09,16.11 L271.65,16.19 L271.22,16.27 L270.78,16.35 L270.34,16.43 L269.9,16.51 L269.47,16.59 L269.03,16.67 L268.59,16.75 L268.15,16.82 L267.71,16.9 L267.28,16.97 L266.84,17.05 L266.4,17.12 L265.96,17.2 L265.52,17.27 L265.08,17.34 L264.64,17.41 L264.2,17.48 L263.76,17.55 L263.32,17.62 L262.88,17.69 L262.43,17.76 L261.99,17.82 L261.55,17.89 L261.11,17.96 L260.67,18.02 L260.23,18.09 L259.78,18.15 L259.34,18.22 L258.9,18.28 L258.46,18.35 L258.01,18.41 L257.57,18.47 L257.13,18.54 L256.68,18.6 L256.24,18.66 L255.8,18.72 L255.36,18.79 L254.91,18.85 L254.47,18.91 L254.02,18.97 L253.58,19.03 L253.14,19.09 L252.69,19.15 L252.25,19.21 L251.81,19.27 L251.36,19.33 L250.92,19.39 L250.47,19.45 L250.03,19.51 L249.59,19.57 L249.14,19.63 L248.7,19.69 L248.25,19.75 L247.81,19.81 L247.37,19.87 L246.92,19.93 L246.48,19.99 L246.03,20.05 L245.59,20.11 L245.15,20.17 L244.7,20.23 L244.26,20.29 L243.82,20.35 L243.37,20.41 L242.93,20.47 L242.48,20.53 L242.04,20.59 L241.6,20.65 L241.15,20.72 L240.71,20.78 L240.27,20.84 L239.83,20.9 L239.38,20.97 L238.94,21.03 L238.5,21.09 L238.05,21.16 L237.61,21.22 L237.17,21.29 L236.73,21.35 L236.29,21.42 L235.84,21.48 L235.4,21.55 L234.96,21.62 L234.52,21.68 L234.08,21.75 L233.64,21.82 L233.2,21.89 L232.76,21.96 L232.32,22.03 L231.88,22.1 L231.44,22.18 L231,22.25 L230.56,22.32 L230.12,22.39 L229.68,22.47 L229.24,22.54 L228.8,22.62 L228.36,22.7 L227.93,22.78 L227.49,22.85 L227.05,22.93 L226.61,23.01 L226.18,23.09 L225.74,23.18 L225.3,23.26 L224.87,23.34 L224.43,23.43 L224,23.51 L223.56,23.6 L223.13,23.68 L222.69,23.77 L222.26,23.86 L221.83,23.95 L221.39,24.04 L220.96,24.14 L220.53,24.23 L220.09,24.32 L219.66,24.42 L219.23,24.52 L218.8,24.61 L218.37,24.71 L217.94,24.81 L217.51,24.91 L217.08,25.02 L216.65,25.12 L216.22,25.22 L215.79,25.33 L215.37,25.44 L214.94,25.55 L214.51,25.66 L214.08,25.77 L213.66,25.88 L213.23,25.99 L212.81,26.11 L212.38,26.23 L211.96,26.34 L211.53,26.46 L211.11,26.58 L210.69,26.71 L210.27,26.83 L209.84,26.95 L209.42,27.08 L209,27.21 L208.58,27.34 L208.16,27.47 L207.74,27.6 L207.32,27.74 L206.91,27.87 L206.49,28.01 L206.07,28.15 L205.65,28.29 L205.24,28.44 L204.82,28.58 L204.41,28.73 L203.99,28.87 L203.58,29.02 L203.17,29.18 L202.75,29.33 L202.34,29.48 L201.93,29.64 L201.52,29.8 L201.11,29.96 L200.7,30.12 L200.29,30.28 L199.88,30.45 L199.48,30.62 L199.07,30.79 L198.66,30.96 L198.26,31.13 L197.85,31.31 L197.45,31.49 L197.04,31.67 L196.64,31.85 L196.24,32.03 L195.84,32.22 L195.44,32.41 L195.04,32.6 L194.64,32.79 L194.24,32.98 L193.84,33.18 L193.44,33.38 L193.05,33.58 L192.65,33.78 L192.26,33.99 L191.86,34.19 L191.47,34.4 L191.08,34.61 L190.68,34.83 L190.29,35.04 L189.9,35.26 L189.51,35.48 L189.12,35.71 L188.74,35.93 L188.35,36.16 L187.96,36.39 L187.58,36.62 L187.19,36.86 L186.81,37.1 L186.42,37.34 L186.04,37.58 L185.66,37.83 L185.28,38.07 L184.9,38.32 L184.52,38.58 L184.14,38.83 L183.77,39.09 L183.39,39.35 L183.01,39.61 L182.64,39.88 L182.27,40.15 L181.89,40.42 L181.52,40.69 L181.15,40.97 L180.79,41.25 L180.42,41.53 L180.06,41.81 L179.7,42.1 L179.34,42.39 L178.98,42.68 L178.63,42.97 L178.28,43.27 L177.94,43.57 L177.6,43.87 L177.26,44.17 L176.93,44.47 L176.6,44.78 L176.28,45.09 L175.96,45.4 L175.65,45.72 L175.34,46.04 L175.04,46.35 L174.75,46.67 L174.46,47 L174.17,47.32 L173.9,47.65 L173.63,47.98 L173.36,48.31 L173.11,48.64 L172.86,48.98 L172.62,49.32 L172.39,49.65 L172.17,50 L171.95,50.34 L171.74,50.68 L171.55,51.03 L171.36,51.38 L171.18,51.73 L171.01,52.08 L170.85,52.43 L170.7,52.79 L170.56,53.15 L170.43,53.51 L170.31,53.87 L170.2,54.23 L170.1,54.59 L170.02,54.96 L169.94,55.33 L169.88,55.69 L169.83,56.06 L169.79,56.44 L169.77,56.81 L169.75,57.18 L169.75,57.56 L169.77,57.94 L169.79,58.32 L169.84,58.7 L169.89,59.08 L169.96,59.46 L170.04,59.84 L170.14,60.23 L170.25,60.62 L170.38,61.01 L170.52,61.39 L170.67,61.78 L170.85,62.18 L171.04,62.57 L171.24,62.96 L171.46,63.36 L171.7,63.75 L171.95,64.15 L172.21,64.55 L172.49,64.94 L172.78,65.34 L173.08,65.74 L173.39,66.13 L173.71,66.53 L174.04,66.92 L174.38,67.32 L174.73,67.71 L175.08,68.1 L175.44,68.48 L175.8,68.87 L176.17,69.25 L176.54,69.63 L176.91,70.01 L177.29,70.39 L177.67,70.76 L178.04,71.13 L178.42,71.49 L178.8,71.85 L179.17,72.21 L179.54,72.56 L179.91,72.91 L180.28,73.25 L180.65,73.59 L181.01,73.93 L181.37,74.26 L181.73,74.59 L182.09,74.91 L182.45,75.23 L182.8,75.55 L183.16,75.86 L183.51,76.17 L183.86,76.48 L184.21,76.78 L184.55,77.08 L184.9,77.37 L185.24,77.66 L185.59,77.95 L185.93,78.24 L186.27,78.52 L186.61,78.8 L186.95,79.07 L187.29,79.35 L187.63,79.62 L187.97,79.89 L188.3,80.15 L188.64,80.41 L188.98,80.67 L189.31,80.93 L189.65,81.18 L189.98,81.43 L190.32,81.68 L190.65,81.93 L190.99,82.18 L191.32,82.42 L191.66,82.66 L191.99,82.9 L192.33,83.13 L192.67,83.37 L193,83.6 L193.34,83.83 L193.68,84.06 L194.02,84.28 L194.36,84.51 L194.7,84.73 L195.04,84.96 L195.38,85.18 L195.72,85.4 L196.07,85.61 L196.41,85.83 L196.76,86.04 L197.1,86.26 L197.45,86.47 L197.8,86.68 L198.16,86.89 L198.51,87.1 L198.86,87.31 L199.22,87.52 L199.58,87.73 L199.94,87.94 L200.3,88.14 L200.67,88.35 L201.03,88.55 L201.4,88.76 L201.77,88.96 L202.14,89.16 L202.52,89.36 L202.89,89.57 L203.27,89.77 L203.64,89.97 L204.02,90.17 L204.41,90.37 L204.79,90.56 L205.17,90.76 L205.56,90.96 L205.95,91.16 L206.34,91.35 L206.73,91.55 L207.12,91.74 L207.51,91.94 L207.91,92.13 L208.3,92.32 L208.7,92.52 L209.1,92.71 L209.5,92.9 L209.9,93.09 L210.3,93.28 L210.7,93.47 L211.11,93.66 L211.51,93.85 L211.92,94.03 L212.33,94.22 L212.73,94.41 L213.14,94.59 L213.55,94.78 L213.96,94.96 L214.38,95.15 L214.79,95.33 L215.2,95.52 L215.62,95.7 L216.03,95.88 L216.45,96.06 L216.86,96.25 L217.28,96.43 L217.7,96.61 L218.12,96.79 L218.54,96.97 L218.96,97.14 L219.38,97.32 L219.8,97.5 L220.22,97.68 L220.64,97.85 L221.06,98.03 L221.48,98.21 L221.91,98.38 L222.33,98.56 L222.75,98.73 L223.18,98.9 L223.6,99.08 L224.02,99.25 L224.45,99.42 L224.87,99.6 L225.3,99.77 L225.72,99.94 L226.15,100.11 L226.57,100.28 L227,100.45 L227.42,100.62 L227.84,100.79 L228.27,100.95 L228.69,101.12 L229.12,101.29 L229.54,101.46 L229.97,101.62 L230.39,101.79 L230.81,101.96 L231.24,102.12 L231.66,102.29 L232.08,102.45 L232.5,102.61 L232.93,102.78 L233.35,102.94 L233.77,103.1 L234.19,103.27 L234.61,103.43 L235.03,103.59 L235.46,103.75 L235.88,103.91 L236.3,104.07 L236.72,104.23 L237.14,104.39 L237.56,104.55 L237.98,104.71 L238.4,104.87 L238.82,105.03 L239.23,105.19 L239.65,105.34 L240.07,105.5 L240.49,105.66 L240.91,105.81 L241.33,105.97 L241.75,106.12 L242.16,106.28 L242.58,106.43 L243,106.59 L243.42,106.74 L243.83,106.9 L244.25,107.05 L244.67,107.2 L245.08,107.36 L245.5,107.51 L245.92,107.66 L246.33,107.81 L246.75,107.97 L247.16,108.12 L247.58,108.27 L247.99,108.42 L248.41,108.57 L248.83,108.72 L249.24,108.87 L249.66,109.02 L250.07,109.17 L250.48,109.32 L250.9,109.47 L251.31,109.61 L251.73,109.76 L252.14,109.91 L252.56,110.06 L252.97,110.2 L253.38,110.35 L253.8,110.5 L254.21,110.64 L254.63,110.79 L255.04,110.94 L255.45,111.08 L255.87,111.23 L256.28,111.37 L256.69,111.52 L257.1,111.66 L257.52,111.81 L257.93,111.95 L258.34,112.09 L258.75,112.24 L259.17,112.38 L259.58,112.52 L259.99,112.67 L260.4,112.81 L260.82,112.95 L261.23,113.09 L261.64,113.24 L262.05,113.38 L262.46,113.52 L262.88,113.66 L263.29,113.8 L263.7,113.94 L264.11,114.08 L264.52,114.22 L264.93,114.36 L265.35,114.5 L265.76,114.64 L266.17,114.78 L266.58,114.92 L266.99,115.06 L267.4,115.2 L267.81,115.34 L268.23,115.48 L268.64,115.62 L269.05,115.76 L269.46,115.9 L269.87,116.03 L270.28,116.17 L270.69,116.31 L271.1,116.45 L271.51,116.59 L271.93,116.72 L272.34,116.86 L272.75,117 L273.16,117.13 L273.57,117.27 L273.98,117.41 L274.39,117.54 L274.8,117.68 L275.21,117.82 L275.62,117.95 L276.04,118.09 L276.45,118.22 L276.86,118.36 L277.27,118.5 L277.68,118.63 L278.09,118.77 L278.5,118.9 L278.91,119.04 L279.32,119.17 L279.74,119.31 L280.15,119.44 L280.56,119.58 L280.97,119.71 L281.38,119.85 L281.79,119.98 L282.2,120.12 L282.62,120.25 L283.03,120.38 L283.44,120.52 L283.85,120.65 L284.26,120.79 L284.68,120.92 L285.09,121.06 L285.5,121.19 L285.91,121.32 L286.32,121.46 L286.74,121.59 L287.15,121.72 L287.56,121.86 L287.97,121.99 L288.39,122.13 L288.8,122.26 L289.21,122.39 L289.62,122.53 L290.04,122.66 L290.45,122.79 L290.86,122.93 L291.28,123.06 L291.69,123.19 L292.1,123.33 L292.52,123.46 L292.93,123.59 L293.34,123.73 L293.76,123.86 L294.17,123.99 L294.59,124.13 L295,124.26 L295.41,124.39 L295.83,124.53 L296.24,124.66 L296.66,124.79 L297.07,124.93 L297.49,125.06 L297.9,125.19 L298.32,125.33 L298.73,125.46 L299.15,125.59 L299.56,125.73 L299.98,125.86 L300.4,125.99 L300.81,126.13 L301.23,126.26 L301.64,126.4 L302.06,126.53 L302.48,126.66 L302.9,126.8 L303.31,126.93 L303.73,127.06 L304.15,127.2 L304.56,127.33 L304.98,127.47 L305.4,127.6 L305.82,127.74 L306.24,127.87 L306.66,128.01 L307.07,128.14 L307.49,128.27 L307.91,128.41 L308.33,128.54 L308.75,128.68 L309.17,128.81 L309.59,128.95 L310.01,129.08 L310.43,129.22 L310.85,129.36 L311.27,129.49 L311.69,129.63 L312.11,129.76 L312.54,129.9 L312.96,130.03 L313.38,130.17 L313.8,130.31 L314.22,130.44 L314.65,130.58 L315.07,130.72 L315.49,130.85 L315.92,130.99 L316.34,131.13 L316.76,131.27 L317.19,131.4 L317.61,131.54 L318.04,131.68 L318.46,131.82 L318.88,131.95 L319.31,132.09 L319.74,132.23 L320.16,132.37 L320.59,132.51 L321.01,132.65 L321.44,132.79 L321.87,132.93 L322.29,133.06 L322.72,133.2 L323.15,133.34 L323.58,133.48 L324.01,133.62 L324.43,133.76 L324.86,133.91 L325.29,134.05 L325.72,134.19 L326.15,134.33 L326.58,134.47 L327.01,134.61 L327.44,134.75 L327.87,134.9 L328.3,135.04 L328.73,135.18 L329.17,135.32 L329.6,135.47 L330.03,135.61 L330.46,135.75 L330.9,135.9 L331.33,136.04 L331.76,136.18 L332.2,136.33 L332.63,136.47 L333.07,136.62 L333.5,136.76 L333.94,136.91 L334.37,137.05 L334.81,137.2 L335.25,137.35 L335.68,137.49 L336.12,137.64 L336.56,137.79 L336.99,137.93 L337.43,138.08 L337.87,138.23 L338.31,138.38 L338.75,138.53 L339.19,138.68 L339.63,138.82 L340.07,138.97 L340.51,139.12 L340.95,139.27 L341.39,139.42 L341.83,139.57 L342.28,139.72 L342.72,139.88 L343.16,140.03 L343.6,140.18 L344.05,140.33 L344.49,140.48 L344.93,140.64 L345.38,140.79 L345.82,140.95 L346.26,141.1 L346.71,141.26 L347.15,141.42 L347.59,141.57 L348.03,141.73 L348.47,141.89 L348.91,142.05 L349.35,142.22 L349.78,142.38 L350.22,142.55 L350.65,142.71 L351.09,142.88 L351.52,143.05 L351.95,143.22 L352.38,143.39 L352.8,143.56 L353.23,143.74 L353.65,143.92 L354.07,144.1 L354.49,144.28 L354.9,144.46 L355.32,144.65 L355.73,144.83 L356.14,145.02 L356.54,145.21 L356.95,145.41 L357.35,145.6 L357.75,145.8 L358.14,146 L358.53,146.21 L358.92,146.41 L359.31,146.62 L359.69,146.83 L360.07,147.04 L360.44,147.26 L360.81,147.48 L361.18,147.7 L361.55,147.93 L361.91,148.16 L362.26,148.39 L362.61,148.62 L362.96,148.86 L363.3,149.1 L363.64,149.34 L363.97,149.59 L364.3,149.84 L364.63,150.1 L364.95,150.35 L365.26,150.62 L365.57,150.88 L365.88,151.15 L366.18,151.42 L366.47,151.7 L366.76,151.98 L367.04,152.27 L367.32,152.55 L367.59,152.85 L367.85,153.14 L368.09,153.44 L368.33,153.74 L368.55,154.04 L368.76,154.34 L368.95,154.64 L369.12,154.94 L369.28,155.24 L369.41,155.54 L369.51,155.84 L369.6,156.14 L369.66,156.43 L369.69,156.73 L369.69,157.02 L369.67,157.3 L369.62,157.59 L369.54,157.87 L369.44,158.14 L369.32,158.42 L369.17,158.69 L369.01,158.96 L368.82,159.22 L368.61,159.48 L368.39,159.74 L368.14,160 L367.88,160.25 L367.6,160.5 L367.31,160.74 L367,160.98 L366.68,161.22 L366.35,161.45 L366,161.68 L365.64,161.91 L365.28,162.13 L364.9,162.35 L364.52,162.57 L364.13,162.78 L363.73,162.99 L363.33,163.19 L362.92,163.4 L362.51,163.59 L362.1,163.79 L361.68,163.97 L361.27,164.16 L360.85,164.34 L360.43,164.52 L360.01,164.69 L359.59,164.86 L359.17,165.03 L358.75,165.19 L358.32,165.35 L357.9,165.51 L357.47,165.67 L357.05,165.82 L356.62,165.97 L356.19,166.12 L355.76,166.26 L355.33,166.4 L354.9,166.54 L354.47,166.68 L354.04,166.82 L353.61,166.95 L353.18,167.09 L352.75,167.22 L352.32,167.35 L351.88,167.48 L351.45,167.61 L351.02,167.73 L350.59,167.86 L350.15,167.99 L349.72,168.11 L349.29,168.24 L348.85,168.36 L348.42,168.48 L347.99,168.6 L347.55,168.73 L347.12,168.85 L346.69,168.97 L346.25,169.09 L345.82,169.21 L345.38,169.33 L344.95,169.44 L344.52,169.56 L344.08,169.68 L343.65,169.8 L343.22,169.91 L342.78,170.03 L342.35,170.14 L341.91,170.26 L341.48,170.37 L341.05,170.49 L340.61,170.6 L340.18,170.71 L339.74,170.82 L339.31,170.93 L338.88,171.04 L338.44,171.15 L338.01,171.26 L337.57,171.37 L337.14,171.48 L336.7,171.59 L336.27,171.7 L335.84,171.8 L335.4,171.91 L334.97,172.02 L334.53,172.12 L334.1,172.23 L333.66,172.33 L333.23,172.43 L332.79,172.54 L332.36,172.64 L331.92,172.74 L331.49,172.84 L331.05,172.95 L330.62,173.05 L330.19,173.15 L329.75,173.25 L329.32,173.35 L328.88,173.44 L328.45,173.54 L328.01,173.64 L327.58,173.74 L327.14,173.83 L326.71,173.93 L326.27,174.03 L325.84,174.12 L325.4,174.22 L324.96,174.31 L324.53,174.4 L324.09,174.5 L323.66,174.59 L323.22,174.68 L322.79,174.78 L322.35,174.87 L321.92,174.96 L321.48,175.05 L321.05,175.14 L320.61,175.23 L320.18,175.32 L319.74,175.41 L319.3,175.49 L318.87,175.58 L318.43,175.67 L318,175.76 L317.56,175.84 L317.13,175.93 L316.69,176.02 L316.25,176.1 L315.82,176.19 L315.38,176.27 L314.95,176.35 L314.51,176.44 L314.08,176.52 L313.64,176.6 L313.2,176.68 L312.77,176.77 L312.33,176.85 L311.9,176.93 L311.46,177.01 L311.02,177.09 L310.59,177.17 L310.15,177.25 L309.71,177.33 L309.28,177.4 L308.84,177.48 L308.41,177.56 L307.97,177.64 L307.53,177.71 L307.1,177.79 L306.66,177.87 L306.22,177.94 L305.79,178.02 L305.35,178.09 L304.91,178.17 L304.48,178.24 L304.04,178.31 L303.6,178.39 L303.17,178.46 L302.73,178.53 L302.29,178.6 L301.86,178.67 L301.42,178.75 L300.98,178.82 L300.55,178.89 L300.11,178.96 L299.67,179.03 L299.24,179.1 L298.8,179.17 L298.36,179.23 L297.93,179.3 L297.49,179.37 L297.05,179.44 L296.62,179.5 L296.18,179.57 L295.74,179.64 L295.3,179.7 L294.87,179.77 L294.43,179.84 L293.99,179.9 L293.56,179.97 L293.12,180.03 L292.68,180.09 L292.24,180.16 L291.81,180.22 L291.37,180.28 L290.93,180.35 L290.5,180.41 L290.06,180.47 L289.62,180.53 L289.18,180.59 L288.75,180.66 L288.31,180.72 L287.87,180.78 L287.43,180.84 L287,180.9 L286.56,180.96 L286.12,181.02 L285.68,181.07 L285.25,181.13 L284.81,181.19 L284.37,181.25 L283.93,181.31 L283.5,181.36 L283.06,181.42 L282.62,181.48 L282.18,181.53 L281.75,181.59 L281.31,181.65 L280.87,181.7 L280.43,181.76 L279.99,181.81 L279.56,181.87 L279.12,181.92 L278.68,181.98 L278.24,182.03 L277.8,182.08 L277.37,182.14 L276.93,182.19 L276.49,182.24 L276.05,182.29 L275.62,182.35 L275.18,182.4 L274.74,182.45 L274.3,182.5 L273.86,182.55 L273.42,182.6 L272.99,182.66 L272.55,182.71 L272.11,182.76 L271.67,182.81 L271.23,182.86 L270.8,182.91 L270.36,182.95 L269.92,183 L269.48,183.05 L269.04,183.1 L268.6,183.15 L268.17,183.2 L267.73,183.24 L267.29,183.29 L266.85,183.34 L266.41,183.39 L265.97,183.43 L265.54,183.48 L265.1,183.53 L264.66,183.57 L264.22,183.62 L263.78,183.66 L263.34,183.71 L262.91,183.76 L262.47,183.8 L262.03,183.85 L261.59,183.89 L261.15,183.93 L260.71,183.98 L260.27,184.02 L259.84,184.07 L259.4,184.11 L258.96,184.15 L258.52,184.2 L258.08,184.24 L257.64,184.28 L257.2,184.33 L256.77,184.37 L256.33,184.41 L255.89,184.45 L255.45,184.5 L255.01,184.54 L254.57,184.58 L254.13,184.62 L253.69,184.66 L253.26,184.7 L252.82,184.74 L252.38,184.78 L251.94,184.83 L251.5,184.87 L251.06,184.91 L250.62,184.95 L250.18,184.99 L249.74,185.03 L249.31,185.07 L248.87,185.11 L248.43,185.15 L247.99,185.18 L247.55,185.22 L247.11,185.26 L246.67,185.3 L246.23,185.34 L245.79,185.38 L245.36,185.42 L244.92,185.46 L244.48,185.49 L244.04,185.53 L243.6,185.57 L243.16,185.61 L242.72,185.64 L242.28,185.68 L241.84,185.72 L241.4,185.76 L240.96,185.79 L240.53,185.83 L240.09,185.87 L239.65,185.9 L239.21,185.94 L238.77,185.98 L238.33,186.01 L237.89,186.05 L237.45,186.09 L237.01,186.12 L236.57,186.16 L236.13,186.2 L235.69,186.23 L235.26,186.27 L234.82,186.3 L234.38,186.34 L233.94,186.37 L233.5,186.41 L233.06,186.44 L232.62,186.48 L232.18,186.52 L231.74,186.55 L231.3,186.59 L230.86,186.62 L230.42,186.66 L229.98,186.69 L229.54,186.72 L229.1,186.76 L228.67,186.79 L228.23,186.83 L227.79,186.86 L227.35,186.9 L226.91,186.93 L226.47,186.97 L226.03,187 L225.59,187.03 L225.15,187.07 L224.71,187.1 L224.27,187.14 L223.83,187.17 L223.39,187.21 L222.95,187.24 L222.51,187.27 L222.07,187.31 L221.64,187.34 L221.2,187.37 L220.76,187.41 L220.32,187.44 L219.88,187.48 L219.44,187.51 L219,187.54 L218.56,187.58 L218.12,187.61 L217.68,187.64 L217.24,187.68 L216.8,187.71 L216.36,187.74 L215.92,187.78 L215.48,187.81 L215.04,187.85 L214.6,187.88 L214.16,187.91 L213.72,187.95 L213.28,187.98 L212.85,188.01 L212.41,188.05 L211.97,188.08 L211.53,188.11 L211.09,188.15 L210.65,188.18 L210.21,188.21 L209.77,188.25 L209.33,188.28 L208.89,188.32 L208.45,188.35 L208.01,188.38 L207.57,188.42 L207.13,188.45 L206.69,188.48 L206.25,188.52 L205.81,188.55 L205.37,188.59 L204.93,188.62 L204.49,188.65 L204.05,188.69 L203.61,188.72 L203.17,188.76 L202.74,188.79 L202.3,188.82 L201.86,188.86 L201.42,188.89 L200.98,188.93 L200.54,188.96 L200.1,189 L199.66,189.03 L199.22,189.06 L198.78,189.1 L198.34,189.13 L197.9,189.17 L197.46,189.2 L197.02,189.24 L196.58,189.27 L196.14,189.31 L195.7,189.34 L195.26,189.38 L194.82,189.41 L194.38,189.45 L193.94,189.49 L193.5,189.52 L193.06,189.56 L192.63,189.59 L192.19,189.63 L191.75,189.66 L191.31,189.7 L190.87,189.74 L190.43,189.77 L189.99,189.81 L189.55,189.84 L189.11,189.88 L188.67,189.92 L188.23,189.95 L187.79,189.99 L187.35,190.03 L186.91,190.07 L186.47,190.1 L186.03,190.14 L185.59,190.18 L185.15,190.22 L184.71,190.25 L184.27,190.29 L183.83,190.33 L183.4,190.37 L182.96,190.4 L182.52,190.44 L182.08,190.48 L181.64,190.52 L181.2,190.56 L180.76,190.6 L180.32,190.64 L179.88,190.68 L179.44,190.72 L179,190.75 L178.56,190.79 L178.12,190.83 L177.68,190.87 L177.24,190.91 L176.8,190.95 L176.36,190.99 L175.92,191.03 L175.49,191.08 L175.05,191.12 L174.61,191.16 L174.17,191.2 L173.73,191.24 L173.29,191.28 L172.85,191.32 L172.41,191.37 L171.97,191.41 L171.53,191.45 L171.09,191.49 L170.65,191.53 L170.21,191.58 L169.77,191.62 L169.33,191.66 L168.89,191.71 L168.46,191.75 L168.02,191.79 L167.58,191.84 L167.14,191.88 L166.7,191.93 L166.26,191.97 L165.82,192.02 L165.38,192.06 L164.94,192.11 L164.5,192.15 L164.06,192.2 L163.62,192.24 L163.18,192.29 L162.75,192.34 L162.31,192.38 L161.87,192.43 L161.43,192.48 L160.99,192.52 L160.55,192.57 L160.11,192.62 L159.67,192.67 L159.23,192.71 L158.79,192.76 L158.35,192.81 L157.92,192.86 L157.48,192.91 L157.04,192.96 L156.6,193.01 L156.16,193.06 L155.72,193.11 L155.28,193.16 L154.84,193.21 L154.4,193.26 L153.96,193.31 L153.53,193.36 L153.09,193.41 L152.65,193.46 L152.21,193.52 L151.77,193.57 L151.33,193.62 L150.89,193.67 L150.45,193.73 L150.01,193.78 L149.58,193.83 L149.14,193.89 L148.7,193.94 L148.26,194 L147.82,194.05 L147.38,194.11 L146.94,194.16 L146.5,194.22 L146.06,194.27 L145.63,194.33 L145.19,194.39 L144.75,194.44 L144.31,194.5 L143.87,194.56 L143.43,194.62 L142.99,194.67 L142.56,194.73 L142.12,194.79 L141.68,194.85 L141.24,194.91 L140.8,194.97 L140.36,195.03 L139.92,195.09 L139.49,195.15 L139.05,195.21 L138.61,195.27 L138.17,195.33 L137.73,195.4 L137.29,195.46 L136.85,195.52 L136.42,195.58 L135.98,195.65 L135.54,195.71 L135.1,195.77 L134.66,195.84 L134.22,195.9 L133.79,195.97 L133.35,196.03 L132.91,196.1 L132.47,196.16 L132.03,196.23 L131.59,196.3 L131.16,196.36 L130.72,196.43 L130.28,196.5 L129.84,196.57 L129.4,196.63 L128.97,196.7 L128.53,196.77 L128.09,196.84 L127.65,196.91 L127.21,196.98 L126.78,197.05 L126.34,197.12 L125.9,197.2 L125.46,197.27 L125.02,197.34 L124.59,197.41 L124.15,197.48 L123.71,197.56 L123.27,197.63 L122.83,197.71 L122.4,197.78 L121.96,197.85 L121.52,197.93 L121.08,198.01 L120.64,198.08 L120.21,198.16 L119.77,198.23 L119.33,198.31 L118.89,198.39 L118.46,198.47 L118.02,198.55 L117.58,198.62 L117.14,198.7 L116.71,198.78 L116.27,198.86 L115.83,198.94 L115.39,199.03 L114.96,199.11 L114.52,199.19 L114.08,199.27 L113.64,199.35 L113.21,199.44 L112.77,199.52 L112.33,199.6 L111.89,199.69 L111.46,199.77 L111.02,199.86 L110.58,199.94 L110.14,200.03 L109.71,200.12 L109.27,200.2 L108.83,200.29 L108.39,200.38 L107.96,200.47 L107.52,200.56 L107.08,200.65 L106.65,200.74 L106.21,200.83 L105.77,200.92 L105.34,201.01 L104.9,201.1 L104.46,201.19 L104.02,201.28 L103.59,201.38 L103.15,201.47 L102.71,201.57 L102.28,201.66 L101.84,201.75 L101.4,201.85 L100.97,201.95 L100.53,202.04 L100.09,202.14 L99.66,202.24 L99.22,202.33 L98.78,202.43 L98.35,202.53 L97.91,202.63 L97.47,202.73 L97.04,202.83 L96.6,202.93 L96.16,203.03 L95.73,203.14 L95.29,203.24 L94.85,203.34 L94.42,203.44 L93.98,203.55 L93.54,203.65 L93.11,203.76 L92.67,203.86 L92.24,203.97 L91.8,204.08 L91.36,204.18 L90.93,204.29 L90.49,204.4 L90.05,204.51" fill="none" stroke="#ff0000" stroke-width="3.0" stroke-linejoin="round" stroke-linecap="round" />
<path d="M299.87,7.78 L299.51,7.95 L299.15,8.12 L298.79,8.29 L298.43,8.46 L298.06,8.63 L297.7,8.8 L297.33,8.96 L296.97,9.12 L296.6,9.28 L296.23,9.44 L295.86,9.6 L295.5,9.75 L295.13,9.9 L294.75,10.06 L294.38,10.2 L294.01,10.35 L293.64,10.5 L293.27,10.64 L292.89,10.79 L292.52,10.93 L292.14,11.07 L291.77,11.21 L291.39,11.34 L291.01,11.48 L290.63,11.61 L290.25,11.74 L289.88,11.87 L289.5,12 L289.11,12.13 L288.73,12.25 L288.35,12.38 L287.97,12.5 L287.59,12.62 L287.2,12.74 L286.82,12.86 L286.43,12.97 L286.05,13.09 L285.66,13.2 L285.27,13.32 L284.89,13.43 L284.5,13.54 L284.11,13.65 L283.72,13.75 L283.33,13.86 L282.94,13.96 L282.55,14.07 L282.16,14.17 L281.77,14.27 L281.38,14.37 L280.98,14.47 L280.59,14.57 L280.2,14.66 L279.8,14.76 L279.41,14.85 L279.01,14.94 L278.62,15.04 L278.22,15.13 L277.82,15.21 L277.43,15.3 L277.03,15.39 L276.63,15.48 L276.23,15.56 L275.83,15.64 L275.43,15.73 L275.03,15.81 L274.63,15.89 L274.23,15.97 L273.83,16.05 L273.43,16.13 L273.03,16.2 L272.63,16.28 L272.22,16.36 L271.82,16.43 L271.42,16.5 L271.01,16.58 L270.61,16.65 L270.21,16.72 L269.8,16.79 L269.4,16.86 L268.99,16.93 L268.58,16.99 L268.18,17.06 L267.77,17.13 L267.36,17.19 L266.96,17.26 L266.55,17.32 L266.14,17.39 L265.73,17.45 L265.33,17.51 L264.92,17.57 L264.51,17.63 L264.1,17.69 L263.69,17.75 L263.28,17.81 L262.87,17.87 L262.46,17.93 L262.05,17.98 L261.64,18.04 L261.23,18.1 L260.82,18.15 L260.41,18.21 L260,18.26 L259.58,18.32 L259.17,18.37 L258.76,18.42 L258.35,18.48 L257.94,18.53 L257.52,18.58 L257.11,18.63 L256.7,18.68 L256.29,18.74 L255.87,18.79 L255.46,18.84 L255.05,18.89 L254.63,18.94 L254.22,18.99 L253.8,19.03 L253.39,19.08 L252.98,19.13 L252.56,19.18 L252.15,19.23 L251.73,19.28 L251.32,19.32 L250.91,19.37 L250.49,19.42 L250.08,19.47 L249.66,19.51 L249.25,19.56 L248.83,19.61 L248.42,19.66 L248,19.7 L247.59,19.75 L247.17,19.8 L246.76,19.84 L246.34,19.89 L245.93,19.94 L245.51,19.98 L245.1,20.03 L244.68,20.08 L244.27,20.12 L243.85,20.17 L243.44,20.22 L243.02,20.26 L242.61,20.31 L242.19,20.36 L241.78,20.41 L241.37,20.45 L240.95,20.5 L240.54,20.55 L240.12,20.6 L239.71,20.65 L239.29,20.7 L238.88,20.75 L238.47,20.79 L238.05,20.84 L237.64,20.89 L237.22,20.94 L236.81,20.99 L236.4,21.04 L235.98,21.1 L235.57,21.15 L235.16,21.2 L234.75,21.25 L234.33,21.3 L233.92,21.36 L233.51,21.41 L233.1,21.46 L232.68,21.52 L232.27,21.57 L231.86,21.63 L231.45,21.68 L231.04,21.74 L230.63,21.8 L230.22,21.85 L229.81,21.91 L229.4,21.97 L228.99,22.03 L228.58,22.09 L228.17,22.15 L227.76,22.21 L227.35,22.27 L226.94,22.33 L226.53,22.4 L226.12,22.46 L225.71,22.53 L225.31,22.59 L224.9,22.66 L224.49,22.72 L224.09,22.79 L223.68,22.86 L223.27,22.93 L222.87,23 L222.46,23.07 L222.06,23.14 L221.65,23.21 L221.25,23.28 L220.84,23.36 L220.44,23.43 L220.04,23.51 L219.63,23.58 L219.23,23.66 L218.83,23.74 L218.43,23.82 L218.03,23.9 L217.63,23.98 L217.22,24.06 L216.82,24.14 L216.42,24.23 L216.03,24.31 L215.63,24.4 L215.23,24.49 L214.83,24.57 L214.43,24.66 L214.04,24.75 L213.64,24.85 L213.24,24.94 L212.85,25.03 L212.45,25.13 L212.06,25.23 L211.66,25.32 L211.27,25.42 L210.88,25.52 L210.48,25.62 L210.09,25.73 L209.7,25.83 L209.31,25.93 L208.92,26.04 L208.53,26.15 L208.14,26.26 L207.75,26.37 L207.36,26.48 L206.97,26.59 L206.59,26.71 L206.2,26.82 L205.81,26.94 L205.43,27.06 L205.04,27.18 L204.66,27.3 L204.27,27.42 L203.89,27.55 L203.51,27.67 L203.13,27.8 L202.75,27.93 L202.36,28.06 L201.98,28.19 L201.61,28.32 L201.23,28.46 L200.85,28.6 L200.47,28.74 L200.09,28.88 L199.72,29.02 L199.34,29.16 L198.97,29.3 L198.59,29.45 L198.22,29.6 L197.85,29.75 L197.48,29.9 L197.11,30.06 L196.74,30.21 L196.37,30.37 L196,30.53 L195.63,30.69 L195.26,30.85 L194.89,31.01 L194.53,31.18 L194.16,31.35 L193.8,31.52 L193.44,31.69 L193.07,31.86 L192.71,32.04 L192.35,32.21 L191.99,32.39 L191.63,32.57 L191.27,32.76 L190.91,32.94 L190.56,33.13 L190.2,33.32 L189.84,33.51 L189.49,33.7 L189.14,33.9 L188.78,34.1 L188.43,34.29 L188.08,34.5 L187.73,34.7 L187.38,34.9 L187.03,35.11 L186.68,35.32 L186.34,35.53 L185.99,35.75 L185.64,35.97 L185.3,36.18 L184.96,36.4 L184.62,36.63 L184.27,36.85 L183.93,37.08 L183.59,37.31 L183.26,37.54 L182.92,37.78 L182.58,38.01 L182.25,38.25 L181.91,38.49 L181.58,38.74 L181.24,38.98 L180.91,39.23 L180.58,39.48 L180.25,39.74 L179.93,39.99 L179.6,40.25 L179.28,40.51 L178.95,40.77 L178.63,41.04 L178.31,41.3 L178,41.57 L177.68,41.84 L177.37,42.12 L177.06,42.39 L176.76,42.67 L176.46,42.95 L176.16,43.23 L175.86,43.51 L175.57,43.8 L175.28,44.09 L174.99,44.38 L174.71,44.67 L174.43,44.96 L174.15,45.26 L173.88,45.55 L173.61,45.85 L173.35,46.15 L173.09,46.46 L172.84,46.76 L172.59,47.07 L172.35,47.38 L172.11,47.69 L171.87,48 L171.64,48.31 L171.42,48.63 L171.2,48.94 L170.99,49.26 L170.79,49.58 L170.58,49.9 L170.39,50.23 L170.2,50.55 L170.02,50.88 L169.84,51.21 L169.68,51.54 L169.51,51.87 L169.36,52.2 L169.21,52.54 L169.07,52.87 L168.93,53.21 L168.81,53.55 L168.69,53.89 L168.57,54.23 L168.47,54.57 L168.37,54.91 L168.28,55.26 L168.2,55.6 L168.13,55.95 L168.07,56.3 L168.01,56.65 L167.97,57 L167.93,57.36 L167.9,57.71 L167.88,58.06 L167.87,58.42 L167.87,58.78 L167.87,59.13 L167.89,59.49 L167.92,59.85 L167.95,60.21 L168,60.58 L168.06,60.94 L168.12,61.3 L168.2,61.67 L168.29,62.04 L168.39,62.4 L168.5,62.77 L168.62,63.14 L168.75,63.51 L168.89,63.88 L169.04,64.25 L169.21,64.62 L169.38,64.99 L169.57,65.37 L169.77,65.74 L169.98,66.12 L170.2,66.49 L170.42,66.86 L170.66,67.24 L170.91,67.61 L171.17,67.99 L171.43,68.36 L171.7,68.74 L171.98,69.11 L172.27,69.48 L172.56,69.85 L172.86,70.22 L173.17,70.59 L173.48,70.96 L173.8,71.32 L174.12,71.69 L174.45,72.05 L174.78,72.41 L175.11,72.77 L175.45,73.12 L175.79,73.48 L176.13,73.83 L176.48,74.18 L176.83,74.52 L177.18,74.87 L177.53,75.21 L177.88,75.55 L178.23,75.88 L178.58,76.21 L178.93,76.54 L179.28,76.86 L179.63,77.18 L179.98,77.5 L180.33,77.81 L180.67,78.12 L181.01,78.42 L181.35,78.72 L181.69,79.02 L182.02,79.31 L182.36,79.6 L182.69,79.88 L183.02,80.16 L183.35,80.44 L183.67,80.71 L184,80.98 L184.32,81.25 L184.64,81.51 L184.96,81.77 L185.28,82.03 L185.6,82.28 L185.92,82.53 L186.23,82.78 L186.55,83.03 L186.86,83.27 L187.17,83.51 L187.49,83.74 L187.8,83.98 L188.11,84.21 L188.42,84.44 L188.72,84.67 L189.03,84.89 L189.34,85.11 L189.65,85.33 L189.96,85.55 L190.26,85.77 L190.57,85.98 L190.87,86.19 L191.18,86.41 L191.49,86.61 L191.79,86.82 L192.1,87.03 L192.41,87.23 L192.71,87.43 L193.02,87.63 L193.33,87.83 L193.63,88.03 L193.94,88.23 L194.25,88.43 L194.56,88.62 L194.87,88.82 L195.18,89.01 L195.49,89.2 L195.8,89.39 L196.12,89.59 L196.43,89.78 L196.75,89.97 L197.06,90.16 L197.38,90.35 L197.7,90.54 L198.02,90.72 L198.34,90.91 L198.66,91.1 L198.99,91.29 L199.31,91.48 L199.64,91.67 L199.97,91.86 L200.3,92.05 L200.63,92.24 L200.97,92.43 L201.3,92.62 L201.64,92.81 L201.98,93 L202.32,93.19 L202.66,93.38 L203.01,93.57 L203.35,93.76 L203.7,93.95 L204.05,94.14 L204.4,94.33 L204.75,94.53 L205.1,94.72 L205.46,94.91 L205.81,95.1 L206.17,95.29 L206.53,95.48 L206.88,95.68 L207.25,95.87 L207.61,96.06 L207.97,96.25 L208.33,96.44 L208.7,96.63 L209.07,96.82 L209.43,97.01 L209.8,97.21 L210.17,97.4 L210.54,97.59 L210.91,97.78 L211.29,97.97 L211.66,98.16 L212.03,98.35 L212.41,98.54 L212.79,98.73 L213.16,98.92 L213.54,99.1 L213.92,99.29 L214.3,99.48 L214.68,99.67 L215.06,99.86 L215.44,100.04 L215.83,100.23 L216.21,100.42 L216.59,100.6 L216.98,100.79 L217.36,100.97 L217.75,101.16 L218.13,101.34 L218.52,101.53 L218.91,101.71 L219.3,101.89 L219.68,102.07 L220.07,102.25 L220.46,102.44 L220.85,102.62 L221.24,102.8 L221.63,102.98 L222.02,103.15 L222.41,103.33 L222.8,103.51 L223.19,103.69 L223.58,103.86 L223.98,104.04 L224.37,104.21 L224.76,104.39 L225.15,104.56 L225.54,104.73 L225.93,104.9 L226.33,105.08 L226.72,105.25 L227.11,105.42 L227.5,105.58 L227.89,105.75 L228.28,105.92 L228.68,106.09 L229.07,106.25 L229.46,106.41 L229.85,106.58 L230.24,106.74 L230.63,106.9 L231.02,107.06 L231.41,107.22 L231.8,107.38 L232.19,107.54 L232.58,107.7 L232.97,107.85 L233.36,108.01 L233.75,108.16 L234.14,108.32 L234.53,108.47 L234.91,108.62 L235.3,108.77 L235.69,108.92 L236.08,109.07 L236.46,109.22 L236.85,109.37 L237.24,109.52 L237.62,109.66 L238.01,109.81 L238.4,109.95 L238.78,110.1 L239.17,110.24 L239.56,110.38 L239.94,110.52 L240.33,110.67 L240.71,110.81 L241.1,110.95 L241.48,111.09 L241.87,111.22 L242.25,111.36 L242.64,111.5 L243.02,111.64 L243.4,111.77 L243.79,111.91 L244.17,112.04 L244.55,112.18 L244.94,112.31 L245.32,112.44 L245.7,112.57 L246.09,112.71 L246.47,112.84 L246.85,112.97 L247.23,113.1 L247.62,113.23 L248,113.36 L248.38,113.48 L248.76,113.61 L249.15,113.74 L249.53,113.87 L249.91,113.99 L250.29,114.12 L250.67,114.24 L251.05,114.37 L251.43,114.49 L251.81,114.62 L252.19,114.74 L252.57,114.86 L252.96,114.99 L253.34,115.11 L253.72,115.23 L254.1,115.35 L254.48,115.48 L254.86,115.6 L255.24,115.72 L255.62,115.84 L256,115.96 L256.37,116.08 L256.75,116.19 L257.13,116.31 L257.51,116.43 L257.89,116.55 L258.27,116.67 L258.65,116.79 L259.03,116.9 L259.41,117.02 L259.79,117.14 L260.16,117.25 L260.54,117.37 L260.92,117.49 L261.3,117.6 L261.68,117.72 L262.06,117.83 L262.43,117.95 L262.81,118.06 L263.19,118.18 L263.57,118.29 L263.95,118.41 L264.32,118.52 L264.7,118.64 L265.08,118.75 L265.46,118.86 L265.84,118.98 L266.21,119.09 L266.59,119.21 L266.97,119.32 L267.35,119.43 L267.72,119.55 L268.1,119.66 L268.48,119.77 L268.85,119.89 L269.23,120 L269.61,120.11 L269.99,120.22 L270.36,120.34 L270.74,120.45 L271.12,120.56 L271.5,120.68 L271.87,120.79 L272.25,120.9 L272.63,121.02 L273,121.13 L273.38,121.24 L273.76,121.36 L274.13,121.47 L274.51,121.58 L274.89,121.7 L275.27,121.81 L275.64,121.93 L276.02,122.04 L276.4,122.15 L276.77,122.27 L277.15,122.38 L277.53,122.5 L277.9,122.61 L278.28,122.73 L278.66,122.84 L279.04,122.96 L279.41,123.07 L279.79,123.19 L280.17,123.3 L280.54,123.42 L280.92,123.54 L281.3,123.65 L281.68,123.77 L282.05,123.89 L282.43,124 L282.81,124.12 L283.19,124.24 L283.56,124.36 L283.94,124.48 L284.32,124.59 L284.7,124.71 L285.07,124.83 L285.45,124.95 L285.83,125.07 L286.21,125.19 L286.58,125.31 L286.96,125.44 L287.34,125.56 L287.72,125.68 L288.1,125.8 L288.47,125.92 L288.85,126.05 L289.23,126.17 L289.61,126.3 L289.99,126.42 L290.37,126.54 L290.75,126.67 L291.12,126.8 L291.5,126.92 L291.88,127.05 L292.26,127.18 L292.64,127.3 L293.02,127.43 L293.4,127.56 L293.78,127.69 L294.16,127.82 L294.54,127.95 L294.92,128.08 L295.3,128.21 L295.68,128.35 L296.06,128.48 L296.44,128.61 L296.82,128.75 L297.2,128.88 L297.58,129.02 L297.96,129.15 L298.34,129.29 L298.72,129.43 L299.1,129.56 L299.48,129.7 L299.86,129.84 L300.24,129.98 L300.62,130.12 L301.01,130.26 L301.39,130.41 L301.77,130.55 L302.15,130.69 L302.53,130.84 L302.92,130.98 L303.3,131.13 L303.68,131.27 L304.06,131.42 L304.45,131.57 L304.83,131.72 L305.21,131.87 L305.59,132.02 L305.98,132.17 L306.36,132.32 L306.75,132.47 L307.13,132.63 L307.51,132.78 L307.9,132.94 L308.28,133.09 L308.67,133.25 L309.05,133.41 L309.44,133.57 L309.82,133.73 L310.21,133.89 L310.59,134.05 L310.98,134.21 L311.36,134.37 L311.75,134.54 L312.14,134.7 L312.52,134.87 L312.91,135.04 L313.3,135.21 L313.68,135.37 L314.07,135.54 L314.46,135.72 L314.84,135.89 L315.23,136.06 L315.62,136.24 L316.01,136.41 L316.4,136.59 L316.79,136.77 L317.17,136.94 L317.56,137.12 L317.95,137.3 L318.34,137.49 L318.73,137.67 L319.12,137.85 L319.51,138.04 L319.9,138.22 L320.29,138.41 L320.68,138.6 L321.08,138.79 L321.47,138.98 L321.86,139.17 L322.25,139.37 L322.64,139.56 L323.03,139.76 L323.43,139.95 L323.82,140.15 L324.21,140.35 L324.61,140.55 L325,140.75 L325.39,140.96 L325.79,141.16 L326.18,141.37 L326.58,141.57 L326.97,141.78 L327.37,141.99 L327.76,142.2 L328.16,142.41 L328.55,142.63 L328.94,142.84 L329.34,143.06 L329.73,143.28 L330.11,143.5 L330.5,143.73 L330.88,143.95 L331.26,144.18 L331.64,144.41 L332.01,144.65 L332.38,144.89 L332.74,145.13 L333.1,145.37 L333.45,145.62 L333.79,145.88 L334.13,146.13 L334.47,146.39 L334.8,146.65 L335.11,146.92 L335.43,147.19 L335.73,147.47 L336.03,147.75 L336.31,148.04 L336.59,148.33 L336.86,148.63 L337.11,148.93 L337.36,149.23 L337.6,149.55 L337.83,149.86 L338.04,150.19 L338.24,150.52 L338.43,150.85 L338.61,151.19 L338.78,151.54 L338.93,151.89 L339.07,152.25 L339.2,152.62 L339.31,152.98 L339.4,153.35 L339.48,153.72 L339.55,154.08 L339.6,154.45 L339.63,154.81 L339.65,155.16 L339.65,155.51 L339.63,155.85 L339.59,156.18 L339.54,156.5 L339.47,156.82 L339.38,157.12 L339.28,157.42 L339.16,157.71 L339.03,158 L338.88,158.27 L338.72,158.54 L338.55,158.8 L338.36,159.05 L338.16,159.3 L337.94,159.54 L337.72,159.78 L337.48,160.01 L337.23,160.23 L336.97,160.45 L336.7,160.66 L336.42,160.87 L336.13,161.07 L335.83,161.27 L335.52,161.46 L335.2,161.65 L334.88,161.83 L334.54,162.01 L334.21,162.19 L333.86,162.36 L333.51,162.53 L333.15,162.7 L332.79,162.86 L332.42,163.02 L332.04,163.17 L331.67,163.33 L331.29,163.48 L330.9,163.63 L330.51,163.78 L330.13,163.92 L329.73,164.07 L329.34,164.21 L328.95,164.35 L328.55,164.49 L328.15,164.63 L327.76,164.77 L327.36,164.91 L326.97,165.05 L326.57,165.19 L326.18,165.33 L325.78,165.46 L325.38,165.6 L324.99,165.73 L324.59,165.87 L324.19,166 L323.8,166.14 L323.4,166.27 L323.01,166.4 L322.61,166.53 L322.21,166.66 L321.82,166.79 L321.42,166.92 L321.02,167.05 L320.63,167.18 L320.23,167.31 L319.83,167.44 L319.44,167.57 L319.04,167.69 L318.64,167.82 L318.25,167.94 L317.85,168.07 L317.45,168.19 L317.06,168.32 L316.66,168.44 L316.26,168.56 L315.86,168.68 L315.47,168.8 L315.07,168.92 L314.67,169.04 L314.27,169.16 L313.88,169.28 L313.48,169.4 L313.08,169.52 L312.68,169.64 L312.29,169.75 L311.89,169.87 L311.49,169.99 L311.09,170.1 L310.7,170.22 L310.3,170.33 L309.9,170.44 L309.5,170.56 L309.1,170.67 L308.71,170.78 L308.31,170.89 L307.91,171 L307.51,171.11 L307.11,171.22 L306.72,171.33 L306.32,171.44 L305.92,171.55 L305.52,171.66 L305.12,171.77 L304.73,171.87 L304.33,171.98 L303.93,172.09 L303.53,172.19 L303.13,172.3 L302.73,172.4 L302.33,172.5 L301.94,172.61 L301.54,172.71 L301.14,172.81 L300.74,172.91 L300.34,173.02 L299.94,173.12 L299.54,173.22 L299.14,173.32 L298.74,173.42 L298.35,173.52 L297.95,173.61 L297.55,173.71 L297.15,173.81 L296.75,173.91 L296.35,174 L295.95,174.1 L295.55,174.19 L295.15,174.29 L294.75,174.38 L294.35,174.48 L293.95,174.57 L293.55,174.67 L293.16,174.76 L292.76,174.85 L292.36,174.94 L291.96,175.04 L291.56,175.13 L291.16,175.22 L290.76,175.31 L290.36,175.4 L289.96,175.49 L289.56,175.57 L289.16,175.66 L288.76,175.75 L288.36,175.84 L287.96,175.93 L287.56,176.01 L287.16,176.1 L286.76,176.18 L286.36,176.27 L285.96,176.36 L285.56,176.44 L285.16,176.52 L284.76,176.61 L284.36,176.69 L283.96,176.77 L283.56,176.86 L283.16,176.94 L282.76,177.02 L282.36,177.1 L281.95,177.18 L281.55,177.26 L281.15,177.34 L280.75,177.42 L280.35,177.5 L279.95,177.58 L279.55,177.66 L279.15,177.74 L278.75,177.82 L278.35,177.89 L277.95,177.97 L277.55,178.05 L277.15,178.12 L276.75,178.2 L276.34,178.27 L275.94,178.35 L275.54,178.42 L275.14,178.5 L274.74,178.57 L274.34,178.65 L273.94,178.72 L273.54,178.79 L273.14,178.86 L272.73,178.94 L272.33,179.01 L271.93,179.08 L271.53,179.15 L271.13,179.22 L270.73,179.29 L270.33,179.36 L269.93,179.43 L269.52,179.5 L269.12,179.57 L268.72,179.64 L268.32,179.71 L267.92,179.77 L267.52,179.84 L267.12,179.91 L266.71,179.98 L266.31,180.04 L265.91,180.11 L265.51,180.17 L265.11,180.24 L264.7,180.31 L264.3,180.37 L263.9,180.44 L263.5,180.5 L263.1,180.56 L262.7,180.63 L262.29,180.69 L261.89,180.75 L261.49,180.82 L261.09,180.88 L260.69,180.94 L260.28,181 L259.88,181.07 L259.48,181.13 L259.08,181.19 L258.68,181.25 L258.27,181.31 L257.87,181.37 L257.47,181.43 L257.07,181.49 L256.66,181.55 L256.26,181.61 L255.86,181.67 L255.46,181.72 L255.05,181.78 L254.65,181.84 L254.25,181.9 L253.85,181.96 L253.45,182.01 L253.04,182.07 L252.64,182.13 L252.24,182.18 L251.83,182.24 L251.43,182.29 L251.03,182.35 L250.63,182.4 L250.22,182.46 L249.82,182.51 L249.42,182.57 L249.02,182.62 L248.61,182.68 L248.21,182.73 L247.81,182.78 L247.41,182.84 L247,182.89 L246.6,182.94 L246.2,183 L245.79,183.05 L245.39,183.1 L244.99,183.15 L244.59,183.2 L244.18,183.26 L243.78,183.31 L243.38,183.36 L242.97,183.41 L242.57,183.46 L242.17,183.51 L241.76,183.56 L241.36,183.61 L240.96,183.66 L240.55,183.71 L240.15,183.76 L239.75,183.81 L239.35,183.86 L238.94,183.9 L238.54,183.95 L238.14,184 L237.73,184.05 L237.33,184.1 L236.93,184.14 L236.52,184.19 L236.12,184.24 L235.72,184.29 L235.31,184.33 L234.91,184.38 L234.51,184.43 L234.1,184.47 L233.7,184.52 L233.3,184.57 L232.89,184.61 L232.49,184.66 L232.08,184.7 L231.68,184.75 L231.28,184.79 L230.87,184.84 L230.47,184.88 L230.07,184.93 L229.66,184.97 L229.26,185.02 L228.86,185.06 L228.45,185.11 L228.05,185.15 L227.65,185.19 L227.24,185.24 L226.84,185.28 L226.43,185.32 L226.03,185.37 L225.63,185.41 L225.22,185.45 L224.82,185.5 L224.42,185.54 L224.01,185.58 L223.61,185.62 L223.2,185.67 L222.8,185.71 L222.4,185.75 L221.99,185.79 L221.59,185.83 L221.18,185.88 L220.78,185.92 L220.38,185.96 L219.97,186 L219.57,186.04 L219.17,186.08 L218.76,186.12 L218.36,186.16 L217.95,186.2 L217.55,186.25 L217.15,186.29 L216.74,186.33 L216.34,186.37 L215.93,186.41 L215.53,186.45 L215.13,186.49 L214.72,186.53 L214.32,186.57 L213.91,186.61 L213.51,186.65 L213.11,186.69 L212.7,186.73 L212.3,186.77 L211.89,186.81 L211.49,186.85 L211.08,186.88 L210.68,186.92 L210.28,186.96 L209.87,187 L209.47,187.04 L209.06,187.08 L208.66,187.12 L208.26,187.16 L207.85,187.2 L207.45,187.24 L207.04,187.27 L206.64,187.31 L206.23,187.35 L205.83,187.39 L205.43,187.43 L205.02,187.47 L204.62,187.51 L204.21,187.54 L203.81,187.58 L203.4,187.62 L203,187.66 L202.6,187.7 L202.19,187.74 L201.79,187.77 L201.38,187.81 L200.98,187.85 L200.57,187.89 L200.17,187.93 L199.77,187.96 L199.36,188 L198.96,188.04 L198.55,188.08 L198.15,188.12 L197.74,188.16 L197.34,188.19 L196.94,188.23 L196.53,188.27 L196.13,188.31 L195.72,188.35 L195.32,188.38 L194.91,188.42 L194.51,188.46 L194.1,188.5 L193.7,188.54 L193.3,188.57 L192.89,188.61 L192.49,188.65 L192.08,188.69 L191.68,188.73 L191.27,188.76 L190.87,188.8 L190.47,188.84 L190.06,188.88 L189.66,188.92 L189.25,188.96 L188.85,188.99 L188.44,189.03 L188.04,189.07 L187.63,189.11 L187.23,189.15 L186.83,189.19 L186.42,189.23 L186.02,189.26 L185.61,189.3 L185.21,189.34 L184.8,189.38 L184.4,189.42 L183.99,189.46 L183.59,189.5 L183.19,189.54 L182.78,189.57 L182.38,189.61 L181.97,189.65 L181.57,189.69 L181.16,189.73 L180.76,189.77 L180.36,189.81 L179.95,189.85 L179.55,189.89 L179.14,189.93 L178.74,189.97 L178.33,190.01 L177.93,190.05 L177.52,190.09 L177.12,190.13 L176.72,190.17 L176.31,190.21 L175.91,190.25 L175.5,190.29 L175.1,190.33 L174.69,190.37 L174.29,190.41 L173.89,190.45 L173.48,190.49 L173.08,190.54 L172.67,190.58 L172.27,190.62 L171.86,190.66 L171.46,190.7 L171.06,190.74 L170.65,190.78 L170.25,190.83 L169.84,190.87 L169.44,190.91 L169.03,190.95 L168.63,190.99 L168.23,191.04 L167.82,191.08 L167.42,191.12 L167.01,191.17 L166.61,191.21 L166.2,191.25 L165.8,191.3 L165.4,191.34 L164.99,191.38 L164.59,191.43 L164.18,191.47 L163.78,191.51 L163.37,191.56 L162.97,191.6 L162.57,191.65 L162.16,191.69 L161.76,191.74 L161.35,191.78 L160.95,191.83 L160.55,191.87 L160.14,191.92 L159.74,191.96 L159.33,192.01 L158.93,192.06 L158.52,192.1 L158.12,192.15 L157.72,192.19 L157.31,192.24 L156.91,192.29 L156.5,192.34 L156.1,192.38 L155.7,192.43 L155.29,192.48 L154.89,192.53 L154.48,192.57 L154.08,192.62 L153.68,192.67 L153.27,192.72 L152.87,192.77 L152.46,192.82 L152.06,192.87 L151.66,192.92 L151.25,192.96 L150.85,193.01 L150.45,193.06 L150.04,193.11 L149.64,193.17 L149.23,193.22 L148.83,193.27 L148.43,193.32 L148.02,193.37 L147.62,193.42 L147.21,193.47 L146.81,193.53 L146.41,193.58 L146,193.63 L145.6,193.68 L145.2,193.74 L144.79,193.79 L144.39,193.84 L143.98,193.9 L143.58,193.95 L143.18,194 L142.77,194.06 L142.37,194.11 L141.97,194.17 L141.56,194.22 L141.16,194.28 L140.76,194.33 L140.35,194.39 L139.95,194.45 L139.55,194.5 L139.14,194.56 L138.74,194.62 L138.34,194.67 L137.93,194.73 L137.53,194.79 L137.12,194.85 L136.72,194.91 L136.32,194.97 L135.91,195.02 L135.51,195.08 L135.11,195.14 L134.7,195.2 L134.3,195.26 L133.9,195.32 L133.5,195.38 L133.09,195.44 L132.69,195.51 L132.29,195.57 L131.88,195.63 L131.48,195.69 L131.08,195.75 L130.67,195.82 L130.27,195.88 L129.87,195.94 L129.46,196.01 L129.06,196.07 L128.66,196.14 L128.25,196.2 L127.85,196.26 L127.45,196.33 L127.05,196.4 L126.64,196.46 L126.24,196.53 L125.84,196.59 L125.43,196.66 L125.03,196.73 L124.63,196.8 L124.23,196.86 L123.82,196.93 L123.42,197 L123.02,197.07 L122.61,197.14 L122.21,197.21 L121.81,197.28 L121.41,197.35 L121,197.42 L120.6,197.49 L120.2,197.56 L119.8,197.63 L119.39,197.71 L118.99,197.78 L118.59,197.85 L118.19,197.92 L117.78,198 L117.38,198.07 L116.98,198.15 L116.58,198.22 L116.17,198.29 L115.77,198.37 L115.37,198.45 L114.97,198.52 L114.57,198.6 L114.16,198.68 L113.76,198.75 L113.36,198.83 L112.96,198.91 L112.55,198.99 L112.15,199.07 L111.75,199.14 L111.35,199.22 L110.95,199.3 L110.54,199.38 L110.14,199.47 L109.74,199.55 L109.34,199.63 L108.94,199.71 L108.53,199.79 L108.13,199.88 L107.73,199.96 L107.33,200.04 L106.93,200.13 L106.53,200.21 L106.12,200.3 L105.72,200.38 L105.32,200.47 L104.92,200.55 L104.52,200.64 L104.12,200.73 L103.71,200.81 L103.31,200.9 L102.91,200.99 L102.51,201.08 L102.11,201.17 L101.71,201.26 L101.31,201.35 L100.9,201.44 L100.5,201.53 L100.1,201.62 L99.7,201.71 L99.3,201.8 L98.9,201.9 L98.5,201.99 L98.1,202.08 L97.69,202.18 L97.29,202.27 L96.89,202.37 L96.49,202.46 L96.09,202.56 L95.69,202.66 L95.29,202.75 L94.89,202.85 L94.49,202.95 L94.09,203.05 L93.69,203.15 L93.28,203.25 L92.88,203.34 L92.48,203.45 L92.08,203.55 L91.68,203.65 L91.28,203.75 L90.88,203.85 L90.48,203.95 L90.08,204.06" fill="none" stroke="#ff0000" stroke-width="3.0" stroke-linejoin="round" stroke-linecap="round" />
<rect x="320.3" y="165.7" width="15" height="14.6" fill="#fff" stroke="#000" stroke-width="3.1"/>
</g>
<line x1="287.2" y1="40.3" x2="333.7" y2="40.3" stroke="#0000ff" stroke-width="3"/>
<text x="339.3" y="46.9" font-family="Liberation Sans, sans-serif" font-size="20.5">Voltage sweep</text>
<circle cx="311" cy="65" r="4.5" fill="#fff" stroke="#0000ff" stroke-width="2.5"/>
<text x="339.3" y="71.8" font-family="Liberation Sans, sans-serif" font-size="20.5">Current sweep</text>
<line x1="500" y1="40.3" x2="546.4" y2="40.3" stroke="#ff0000" stroke-width="3"/>
<text x="551.2" y="46.9" font-family="Liberation Sans, sans-serif" font-size="21">Model</text>
<rect x="516.2" y="57.2" width="15.2" height="15" fill="#fff" stroke="#000" stroke-width="3.1"/>
<text x="551.5" y="71.8" font-family="Liberation Sans, sans-serif" font-size="20.5">IR image</text>
<text x="295.7" y="104.8" font-family="Liberation Sans, sans-serif" font-weight="bold" font-size="16" fill="#0000ff">0.60 V</text>
<text x="357.9" y="113" font-family="Liberation Sans, sans-serif" font-weight="bold" font-size="16" fill="#0000ff">0.55 V</text>
<text x="420.1" y="121.2" font-family="Liberation Sans, sans-serif" font-weight="bold" font-size="16" fill="#0000ff">0.50 V</text>
<text x="585" y="197.8" font-family="Liberation Sans, sans-serif" font-weight="bold" font-size="16" fill="#0000ff">0.45 V</text>
<text x="594.6" y="215.8" font-family="Liberation Sans, sans-serif" font-weight="bold" font-size="16" fill="#0000ff">0.40 V</text>
<line x1="324.6" y1="110.2" x2="334.2" y2="142.6" stroke="#0000ff" stroke-width="1.8"/>
<line x1="378.1" y1="116.8" x2="375.1" y2="149.8" stroke="#0000ff" stroke-width="1.8"/>
<line x1="436.5" y1="125.3" x2="430.5" y2="143.3" stroke="#0000ff" stroke-width="1.8"/>
<text x="523.6" y="152.8" font-family="Liberation Sans, sans-serif" font-weight="bold" font-size="24" fill="#0000ff">V</text>
<text x="540.6" y="161" font-family="Liberation Sans, sans-serif" font-weight="bold" font-size="14" fill="#0000ff">BE</text>
<line x1="558.9" y1="173.6" x2="510" y2="152.4" stroke="#0000ff" stroke-width="2"/>
<path d="M502.4,149.1 L515.2,150.6 L511.4,156.3 Z" fill="#0000ff"/>
<rect x="420.2" y="235.6" width="231" height="219.5" fill="#fff" stroke="#000" stroke-width="1.8"/>
<rect x="472.4" y="244.8" width="159.30000000000007" height="177.5" fill="none" stroke="#000" stroke-width="1.5"/>
<line x1="492.31" y1="422.3" x2="492.31" y2="420.3" stroke="#000" stroke-width="1.3"/>
<line x1="512.23" y1="422.3" x2="512.23" y2="418.3" stroke="#000" stroke-width="1.3"/>
<line x1="532.14" y1="422.3" x2="532.14" y2="420.3" stroke="#000" stroke-width="1.3"/>
<line x1="552.05" y1="422.3" x2="552.05" y2="418.3" stroke="#000" stroke-width="1.3"/>
<line x1="571.96" y1="422.3" x2="571.96" y2="420.3" stroke="#000" stroke-width="1.3"/>
<line x1="591.88" y1="422.3" x2="591.88" y2="418.3" stroke="#000" stroke-width="1.3"/>
<line x1="611.79" y1="422.3" x2="611.79" y2="420.3" stroke="#000" stroke-width="1.3"/>
<line x1="472.4" y1="351.3" x2="476.4" y2="351.3" stroke="#000" stroke-width="1.3"/>
<line x1="631.7" y1="351.3" x2="627.7" y2="351.3" stroke="#000" stroke-width="1.3"/>
<line x1="472.4" y1="280.3" x2="476.4" y2="280.3" stroke="#000" stroke-width="1.3"/>
<line x1="631.7" y1="280.3" x2="627.7" y2="280.3" stroke="#000" stroke-width="1.3"/>
<text transform="translate(472.4 438.6) scale(1 1.07)" font-family="Liberation Sans, sans-serif" font-weight="bold" font-size="16" fill="#000" text-anchor="middle">0</text>
<text transform="translate(512.23 438.6) scale(1 1.07)" font-family="Liberation Sans, sans-serif" font-weight="bold" font-size="16" fill="#000" text-anchor="middle">5</text>
<path d="M547.6,438.6 L550,438.6 L550,427.14 L548.43,427.14 L544.71,429.88 L544.71,431.8 L547.6,429.88 Z" fill="#000"/>
<text transform="translate(552.05 438.6) scale(1 1.07)" font-family="Liberation Sans, sans-serif" font-weight="bold" font-size="16" fill="#000">0</text>
<path d="M587.43,438.6 L589.83,438.6 L589.83,427.14 L588.26,427.14 L584.53,429.88 L584.53,431.8 L587.43,429.88 Z" fill="#000"/>
<text transform="translate(591.88 438.6) scale(1 1.07)" font-family="Liberation Sans, sans-serif" font-weight="bold" font-size="16" fill="#000">5</text>
<text transform="translate(631.7 438.6) scale(1 1.07)" font-family="Liberation Sans, sans-serif" font-weight="bold" font-size="16" fill="#000" text-anchor="middle">20</text>
<text transform="translate(469.3 425.5) scale(1 1.07)" font-family="Liberation Sans, sans-serif" font-weight="bold" font-size="16" fill="#000" text-anchor="end">0</text>
<text transform="translate(424.9 287.2) scale(1 1.07)" font-family="Liberation Sans, sans-serif" font-weight="bold" font-size="16" fill="#000">4x</text>
<path d="M447.14,287.2 L449.54,287.2 L449.54,275.74 L447.97,275.74 L444.24,278.48 L444.24,280.4 L447.14,278.48 Z" fill="#000"/>
<text transform="translate(451.59 287.2) scale(1 1.07)" font-family="Liberation Sans, sans-serif" font-weight="bold" font-size="16" fill="#000">0</text>
<text transform="translate(460.68 279.4) scale(1 1.07)" font-family="Liberation Sans, sans-serif" font-weight="bold" font-size="9.3" fill="#000">-4</text>
<text transform="translate(424.9 357.1) scale(1 1.07)" font-family="Liberation Sans, sans-serif" font-weight="bold" font-size="16" fill="#000">2x</text>
<path d="M447.14,357.1 L449.54,357.1 L449.54,345.64 L447.97,345.64 L444.24,348.38 L444.24,350.3 L447.14,348.38 Z" fill="#000"/>
<text transform="translate(451.59 357.1) scale(1 1.07)" font-family="Liberation Sans, sans-serif" font-weight="bold" font-size="16" fill="#000">0</text>
<text transform="translate(460.68 349.3) scale(1 1.07)" font-family="Liberation Sans, sans-serif" font-weight="bold" font-size="9.3" fill="#000">-4</text>
<line x1="472.4" y1="354.2" x2="631.7" y2="257.6" stroke="#000" stroke-width="1.5"/>
<line x1="472.4" y1="382.3" x2="631.7" y2="311.4" stroke="#000" stroke-width="1.5"/>
<path d="M472.4,422.3 L472.85,422.29 L473.29,422.29 L473.73,422.28 L474.17,422.28 L474.62,422.27 L475.07,422.26 L475.53,422.24 L476,422.2 L476.49,422.15 L477,422.09 L477.51,422.02 L478.04,421.94 L478.56,421.86 L479.06,421.78 L479.55,421.69 L480,421.6 L480.43,421.51 L480.83,421.42 L481.22,421.33 L481.59,421.24 L481.95,421.14 L482.3,421.03 L482.65,420.92 L483,420.8 L483.35,420.68 L483.68,420.55 L484.01,420.42 L484.34,420.28 L484.66,420.13 L484.97,419.97 L485.29,419.8 L485.6,419.6 L485.91,419.39 L486.22,419.16 L486.52,418.92 L486.83,418.67 L487.12,418.4 L487.42,418.12 L487.71,417.82 L488,417.5 L488.28,417.18 L488.55,416.88 L488.82,416.56 L489.09,416.23 L489.35,415.86 L489.63,415.44 L489.91,414.96 L490.2,414.4 L490.5,413.79 L490.81,413.15 L491.11,412.47 L491.43,411.73 L491.76,410.91 L492.09,410 L492.44,408.96 L492.8,407.8 L493.18,406.47 L493.58,404.96 L493.99,403.33 L494.41,401.61 L494.83,399.84 L495.26,398.05 L495.68,396.3 L496.1,394.6 L496.52,392.95 L496.94,391.3 L497.37,389.65 L497.79,388 L498.21,386.35 L498.62,384.7 L499.02,383.05 L499.4,381.4 L499.76,379.75 L500.1,378.1 L500.42,376.45 L500.74,374.8 L501.05,373.15 L501.36,371.5 L501.67,369.85 L502,368.2 L502.33,366.52 L502.67,364.79 L503.01,363.04 L503.36,361.31 L503.7,359.61 L504.04,357.97 L504.37,356.43 L504.7,355 L505.02,353.71 L505.32,352.52 L505.62,351.42 L505.91,350.39 L506.21,349.41 L506.52,348.44 L506.85,347.48 L507.2,346.5 L507.57,345.51 L507.94,344.54 L508.33,343.58 L508.72,342.64 L509.14,341.71 L509.57,340.8 L510.02,339.89 L510.5,339 L511,338.11 L511.53,337.23 L512.08,336.35 L512.64,335.49 L513.22,334.65 L513.81,333.84 L514.41,333.05 L515,332.3 L515.58,331.61 L516.13,330.99 L516.67,330.42 L517.23,329.86 L517.82,329.3 L518.47,328.7 L519.19,328.04 L520,327.3 L520.85,326.5 L521.7,325.67 L522.59,324.8 L523.54,323.89 L524.61,322.92 L525.81,321.89 L527.2,320.79 L528.8,319.6 L530.68,318.3 L532.82,316.87 L535.17,315.36 L537.64,313.79 L540.18,312.2 L542.72,310.62 L545.18,309.07 L547.5,307.6 L549.7,306.2 L551.85,304.86 L553.97,303.54 L556.06,302.24 L558.14,300.93 L560.22,299.6 L562.3,298.23 L564.4,296.8 L566.54,295.31 L568.71,293.77 L570.9,292.19 L573.09,290.59 L575.24,288.98 L577.34,287.37 L579.37,285.77 L581.3,284.2 L583.14,282.63 L584.93,281.06 L586.65,279.48 L588.32,277.91 L589.93,276.35 L591.47,274.83 L592.97,273.34 L594.4,271.9 L595.78,270.49 L597.1,269.1 L598.36,267.73 L599.57,266.39 L600.72,265.1 L601.8,263.87 L602.83,262.7 L603.8,261.6 L604.7,260.59 L605.53,259.66 L606.29,258.81 L606.99,258 L607.65,257.23 L608.26,256.49 L608.85,255.75 L609.4,255 L609.91,254.25 L610.38,253.53 L610.79,252.82 L611.18,252.13 L611.53,251.46 L611.86,250.79 L612.18,250.14 L612.5,249.5 L612.8,248.87 L613.08,248.27 L613.33,247.68 L613.57,247.1 L613.8,246.53 L614.03,245.96 L614.26,245.38 L614.5,244.8" fill="none" stroke="#0000ff" stroke-width="1.7" stroke-linejoin="round" stroke-linecap="round" />
<path d="M472.4,422.3 L472.85,422.29 L473.29,422.29 L473.73,422.28 L474.17,422.28 L474.62,422.27 L475.07,422.26 L475.53,422.24 L476,422.2 L476.49,422.15 L477,422.09 L477.51,422.02 L478.04,421.95 L478.56,421.87 L479.06,421.78 L479.55,421.69 L480,421.6 L480.42,421.5 L480.8,421.4 L481.16,421.29 L481.51,421.18 L481.85,421.07 L482.21,420.95 L482.59,420.82 L483,420.7 L483.44,420.6 L483.91,420.54 L484.4,420.48 L484.89,420.42 L485.4,420.32 L485.9,420.17 L486.41,419.94 L486.9,419.6 L487.4,419.16 L487.9,418.62 L488.42,418.01 L488.92,417.34 L489.43,416.63 L489.91,415.89 L490.37,415.15 L490.8,414.4 L491.2,413.64 L491.56,412.85 L491.9,412.03 L492.23,411.19 L492.55,410.34 L492.86,409.48 L493.18,408.63 L493.5,407.8 L493.83,406.98 L494.16,406.15 L494.48,405.32 L494.81,404.5 L495.13,403.68 L495.45,402.85 L495.78,402.03 L496.1,401.2 L496.43,400.38 L496.76,399.55 L497.1,398.72 L497.44,397.9 L497.77,397.07 L498.09,396.25 L498.4,395.42 L498.7,394.6 L498.97,393.78 L499.23,392.95 L499.46,392.12 L499.69,391.3 L499.93,390.48 L500.16,389.65 L500.42,388.83 L500.7,388 L501,387.18 L501.31,386.35 L501.63,385.52 L501.97,384.7 L502.31,383.88 L502.67,383.05 L503.03,382.23 L503.4,381.4 L503.78,380.57 L504.17,379.75 L504.57,378.92 L504.97,378.1 L505.39,377.27 L505.82,376.45 L506.25,375.62 L506.7,374.8 L507.16,373.95 L507.62,373.08 L508.1,372.19 L508.58,371.31 L509.07,370.46 L509.58,369.64 L510.08,368.88 L510.6,368.2 L511.12,367.6 L511.65,367.06 L512.19,366.58 L512.73,366.14 L513.28,365.73 L513.85,365.35 L514.42,364.97 L515,364.6 L515.58,364.25 L516.16,363.93 L516.74,363.63 L517.34,363.36 L517.95,363.08 L518.6,362.81 L519.28,362.52 L520,362.2 L520.72,361.89 L521.41,361.62 L522.11,361.35 L522.85,361.07 L523.67,360.75 L524.61,360.36 L525.71,359.89 L527,359.3 L528.44,358.61 L529.97,357.86 L531.62,357.03 L533.41,356.13 L535.36,355.16 L537.5,354.11 L539.83,352.99 L542.4,351.8 L545.28,350.49 L548.5,349.06 L551.97,347.53 L555.6,345.94 L559.3,344.32 L563,342.7 L566.59,341.12 L570,339.6 L573.27,338.13 L576.5,336.68 L579.7,335.25 L582.85,333.83 L585.96,332.41 L589.02,331 L592.04,329.6 L595,328.2 L597.89,326.81 L600.71,325.42 L603.47,324.05 L606.19,322.68 L608.88,321.31 L611.57,319.94 L614.27,318.57 L617,317.2" fill="none" stroke="#0000ff" stroke-width="1.7" stroke-linejoin="round" stroke-linecap="round" />
<text transform="translate(477 310.5) scale(1 1.04)" font-family="Liberation Sans, sans-serif" font-size="18" fill="#ff0000">offset</text>
<line x1="489.2" y1="319" x2="477.5" y2="344" stroke="#ff0000" stroke-width="1.6"/>
<line x1="489.2" y1="319" x2="476.8" y2="368" stroke="#ff0000" stroke-width="1.6"/>
<path d="M475.3,349.2 L475.6,340.5 L480.6,342.9 Z" fill="#ff0000"/>
<path d="M475.5,374 L473.4,365.5 L478.8,366.3 Z" fill="#ff0000"/>
<text transform="translate(531,369.5) rotate(-20)" font-family="Liberation Sans, sans-serif" font-weight="bold" font-size="17" fill="#000">non-ideal</text>
<text transform="translate(541,394.5) rotate(-20.4)" font-family="Liberation Sans, sans-serif" font-weight="bold" font-size="17" fill="#000">saturation</text>
<text transform="translate(573.5,282) rotate(-36)" font-family="Liberation Sans, sans-serif" font-weight="bold" font-size="13" fill="#0000ff">0.45 V</text>
<text transform="translate(582.5,327.5) rotate(-31)" font-family="Liberation Sans, sans-serif" font-weight="bold" font-size="13" fill="#0000ff">0.40 V</text>
<rect x="110.0" y="17.0" width="541.0" height="438.0" fill="none" stroke="#000" stroke-width="2"/>
<line x1="177.62" y1="455.0" x2="177.62" y2="451.0" stroke="#000" stroke-width="2"/>
<line x1="177.62" y1="17.0" x2="177.62" y2="21.0" stroke="#000" stroke-width="2"/>
<line x1="245.25" y1="455.0" x2="245.25" y2="447.0" stroke="#000" stroke-width="2"/>
<line x1="245.25" y1="17.0" x2="245.25" y2="25.0" stroke="#000" stroke-width="2"/>
<line x1="312.88" y1="455.0" x2="312.88" y2="451.0" stroke="#000" stroke-width="2"/>
<line x1="312.88" y1="17.0" x2="312.88" y2="21.0" stroke="#000" stroke-width="2"/>
<line x1="380.5" y1="455.0" x2="380.5" y2="447.0" stroke="#000" stroke-width="2"/>
<line x1="380.5" y1="17.0" x2="380.5" y2="25.0" stroke="#000" stroke-width="2"/>
<line x1="448.12" y1="455.0" x2="448.12" y2="451.0" stroke="#000" stroke-width="2"/>
<line x1="448.12" y1="17.0" x2="448.12" y2="21.0" stroke="#000" stroke-width="2"/>
<line x1="515.75" y1="455.0" x2="515.75" y2="447.0" stroke="#000" stroke-width="2"/>
<line x1="515.75" y1="17.0" x2="515.75" y2="25.0" stroke="#000" stroke-width="2"/>
<line x1="583.38" y1="455.0" x2="583.38" y2="451.0" stroke="#000" stroke-width="2"/>
<line x1="583.38" y1="17.0" x2="583.38" y2="21.0" stroke="#000" stroke-width="2"/>
<line x1="110.0" y1="71.75" x2="118.0" y2="71.75" stroke="#000" stroke-width="2"/>
<line x1="651.0" y1="71.75" x2="643.0" y2="71.75" stroke="#000" stroke-width="2"/>
<line x1="110.0" y1="126.5" x2="118.0" y2="126.5" stroke="#000" stroke-width="2"/>
<line x1="651.0" y1="126.5" x2="643.0" y2="126.5" stroke="#000" stroke-width="2"/>
<line x1="110.0" y1="181.25" x2="118.0" y2="181.25" stroke="#000" stroke-width="2"/>
<line x1="651.0" y1="181.25" x2="643.0" y2="181.25" stroke="#000" stroke-width="2"/>
<line x1="110.0" y1="236" x2="118.0" y2="236" stroke="#000" stroke-width="2"/>
<line x1="651.0" y1="236" x2="643.0" y2="236" stroke="#000" stroke-width="2"/>
<line x1="110.0" y1="290.75" x2="118.0" y2="290.75" stroke="#000" stroke-width="2"/>
<line x1="651.0" y1="290.75" x2="643.0" y2="290.75" stroke="#000" stroke-width="2"/>
<line x1="110.0" y1="345.5" x2="118.0" y2="345.5" stroke="#000" stroke-width="2"/>
<line x1="651.0" y1="345.5" x2="643.0" y2="345.5" stroke="#000" stroke-width="2"/>
<line x1="110.0" y1="400.25" x2="118.0" y2="400.25" stroke="#000" stroke-width="2"/>
<line x1="651.0" y1="400.25" x2="643.0" y2="400.25" stroke="#000" stroke-width="2"/>
<text transform="translate(110 486) scale(1 1.04)" font-family="Liberation Sans, sans-serif" font-size="28" text-anchor="middle">0</text>
<text transform="translate(245.25 486) scale(1 1.04)" font-family="Liberation Sans, sans-serif" font-size="28" text-anchor="middle">5</text>
<path d="M372.94,486 L375.32,486 L375.32,465.95 L373.84,465.95 L367.42,471.66 L367.42,473.96 L372.94,469.4 Z" fill="#000"/>
<text transform="translate(380.5 486) scale(1 1.04)" font-family="Liberation Sans, sans-serif" font-size="28">0</text>
<path d="M508.19,486 L510.57,486 L510.57,465.95 L509.09,465.95 L502.67,471.66 L502.67,473.96 L508.19,469.4 Z" fill="#000"/>
<text transform="translate(515.75 486) scale(1 1.04)" font-family="Liberation Sans, sans-serif" font-size="28">5</text>
<text transform="translate(651 486) scale(1 1.04)" font-family="Liberation Sans, sans-serif" font-size="28" text-anchor="middle">20</text>
<path d="M68.81,27 L71.19,27 L71.19,6.95 L69.7,6.95 L63.29,12.66 L63.29,14.96 L68.81,10.4 Z" fill="#000"/>
<text transform="translate(76.37 27) scale(1 1.04)" font-family="Liberation Sans, sans-serif" font-size="28">0</text>
<text transform="translate(91.94 13.5) scale(1 1.04)" font-family="Liberation Sans, sans-serif" font-size="16">0</text>
<path d="M63.41,136.5 L65.79,136.5 L65.79,116.45 L64.3,116.45 L57.89,122.16 L57.89,124.46 L63.41,119.9 Z" fill="#000"/>
<text transform="translate(70.97 136.5) scale(1 1.04)" font-family="Liberation Sans, sans-serif" font-size="28">0</text>
<text transform="translate(86.54 123) scale(1 1.04)" font-family="Liberation Sans, sans-serif" font-size="16">-2</text>
<path d="M63.41,246 L65.79,246 L65.79,225.95 L64.3,225.95 L57.89,231.66 L57.89,233.96 L63.41,229.4 Z" fill="#000"/>
<text transform="translate(70.97 246) scale(1 1.04)" font-family="Liberation Sans, sans-serif" font-size="28">0</text>
<text transform="translate(86.54 232.5) scale(1 1.04)" font-family="Liberation Sans, sans-serif" font-size="16">-4</text>
<path d="M63.41,355.5 L65.79,355.5 L65.79,335.45 L64.3,335.45 L57.89,341.16 L57.89,343.46 L63.41,338.9 Z" fill="#000"/>
<text transform="translate(70.97 355.5) scale(1 1.04)" font-family="Liberation Sans, sans-serif" font-size="28">0</text>
<text transform="translate(86.54 342) scale(1 1.04)" font-family="Liberation Sans, sans-serif" font-size="16">-6</text>
<path d="M63.41,465 L65.79,465 L65.79,444.95 L64.3,444.95 L57.89,450.66 L57.89,452.96 L63.41,448.4 Z" fill="#000"/>
<text transform="translate(70.97 465) scale(1 1.04)" font-family="Liberation Sans, sans-serif" font-size="28">0</text>
<text transform="translate(86.54 451.5) scale(1 1.04)" font-family="Liberation Sans, sans-serif" font-size="16">-8</text>
<text transform="translate(377.6 523.6) scale(1 1.04)" font-family="Liberation Sans, sans-serif" font-size="28.2" text-anchor="middle">Collector-emitter voltage [V]</text>
<text transform="translate(21.6 201.9) rotate(-90) scale(1 1.04)" font-family="Liberation Sans, sans-serif" font-size="28.4" text-anchor="middle">Collector current [A]</text>
</svg></body></html>
